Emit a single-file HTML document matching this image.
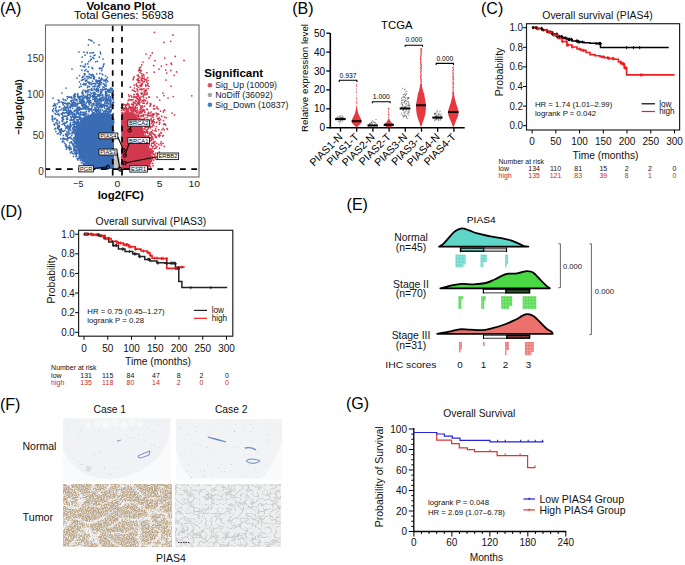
<!DOCTYPE html>
<html><head><meta charset="utf-8"><style>
html,body{margin:0;padding:0;background:#fff;}
svg{display:block;}
text{font-family:"Liberation Sans", sans-serif;}
</style></head><body>
<svg width="685" height="565" viewBox="0 0 685 565">
<rect width="685" height="565" fill="#fff"/>
<text x="0.00" y="13.70" font-size="16">(A)</text>
<text x="86.40" y="9.50" font-size="10.8" font-weight="bold" textLength="69.20" lengthAdjust="spacingAndGlyphs">Volcano Plot</text>
<text x="74.00" y="19.00" font-size="10.4" textLength="99.60" lengthAdjust="spacingAndGlyphs">Total Genes: 56938</text>
<polygon points="114.0,169.0 93.0,169.0 85.0,163.0 79.0,156.0 76.0,147.0 75.0,137.0 77.0,128.0 80.0,121.0 85.0,116.0 92.0,114.0 100.0,113.0 107.0,113.0 111.5,114.0 114.0,118.0" fill="#3a6cb4"/>
<path d="M77.2 146.3h0M93.5 94.0h0M87.5 97.4h0M100.8 129.6h0M59.7 102.1h0M92.8 138.2h0M88.0 114.0h0M103.8 161.8h0M106.0 118.4h0M79.8 101.4h0M103.0 59.1h0M110.9 107.2h0M112.6 151.1h0M102.4 134.9h0M83.1 84.6h0M94.3 163.3h0M107.6 148.1h0M91.8 142.8h0M98.0 100.6h0M112.2 89.9h0M110.6 132.9h0M112.7 124.1h0M85.1 55.2h0M112.1 123.1h0M87.3 156.5h0M108.7 103.7h0M85.5 140.7h0M98.6 157.5h0M89.2 104.2h0M94.3 97.3h0M106.1 161.4h0M89.9 105.1h0M99.9 73.4h0M86.5 129.8h0M69.5 137.5h0M96.9 110.2h0M80.4 160.4h0M102.4 94.6h0M103.4 89.5h0M94.0 166.7h0M103.3 130.6h0M103.8 152.0h0M62.9 104.1h0M106.3 89.0h0M93.7 128.8h0M90.2 120.0h0M97.9 103.9h0M112.4 102.7h0M89.5 122.2h0M69.5 112.4h0M94.3 126.5h0M83.1 98.9h0M112.6 160.6h0M106.8 130.1h0M107.5 101.7h0M70.2 148.1h0M98.0 147.9h0M85.2 132.3h0M91.2 75.5h0M69.3 111.0h0M108.0 103.1h0M108.0 168.5h0M98.0 92.1h0M79.3 110.2h0M91.3 77.8h0M106.6 100.3h0M93.2 93.0h0M92.7 159.2h0M97.3 104.1h0M92.6 162.3h0M102.6 145.7h0M102.0 138.4h0M98.4 158.1h0M81.6 159.6h0M99.5 117.6h0M106.5 167.4h0M95.4 96.6h0M76.7 119.3h0M97.9 149.0h0M91.8 167.8h0M87.3 159.9h0M105.4 96.8h0M99.8 161.9h0M88.2 119.2h0M85.2 121.7h0M70.0 112.2h0M77.1 145.5h0M106.5 98.4h0M73.7 104.1h0M110.4 165.8h0M77.2 124.3h0M99.9 98.0h0M82.4 79.8h0M93.5 155.3h0M75.2 142.5h0M113.4 113.6h0M98.9 95.9h0M87.5 124.9h0M89.4 94.6h0M91.8 40.9h0M105.8 140.5h0M85.3 161.3h0M91.1 144.6h0M79.8 135.2h0M100.5 106.5h0M91.1 164.4h0M90.4 128.8h0M94.6 150.3h0M96.4 112.7h0M63.6 119.6h0M94.3 121.0h0M108.5 161.7h0M104.3 144.4h0M102.8 120.7h0M95.8 86.2h0M77.9 139.3h0M95.1 108.5h0M98.8 166.1h0M100.4 120.3h0M98.3 136.6h0M70.9 106.4h0M100.9 134.1h0M62.6 121.6h0M75.5 141.6h0M82.0 120.8h0M97.4 156.9h0M86.7 136.1h0M93.5 122.0h0M70.0 120.3h0M79.1 119.4h0M93.2 159.9h0M91.9 139.9h0M110.2 106.0h0M76.9 129.5h0M110.2 107.0h0M101.3 89.3h0M77.4 121.5h0M90.5 40.0h0M110.9 123.9h0M99.7 83.4h0M107.9 141.7h0M84.0 135.2h0M106.5 110.7h0M81.4 103.3h0M93.7 160.0h0M112.8 104.9h0M108.2 118.1h0M90.1 129.2h0M79.3 137.9h0M108.5 123.9h0M102.6 141.0h0M86.8 158.3h0M110.0 166.5h0M65.5 134.1h0M104.8 133.6h0M90.2 130.9h0M91.6 145.1h0M69.9 133.6h0M105.1 101.7h0M73.5 113.3h0M110.5 140.8h0M95.0 146.4h0M102.0 151.6h0M93.8 157.7h0M98.1 141.7h0M106.6 106.4h0M72.1 106.0h0M81.1 112.3h0M85.7 152.1h0M110.6 157.2h0M88.3 90.1h0M91.0 163.3h0M75.2 96.7h0M111.8 167.9h0M91.4 167.1h0M90.2 97.3h0M95.7 110.5h0M101.6 82.7h0M64.0 112.8h0M88.9 102.9h0M101.9 114.4h0M80.5 152.2h0M102.3 151.4h0M81.7 105.2h0M66.0 145.0h0M83.5 130.0h0M105.6 131.9h0M99.7 82.3h0M111.3 160.4h0M77.0 120.9h0M67.0 126.9h0M84.7 159.1h0M111.2 105.3h0M79.9 107.9h0M85.1 118.3h0M105.8 95.6h0M104.4 145.6h0M79.3 132.7h0M75.0 110.8h0M82.0 96.2h0M106.3 164.3h0M102.9 105.1h0M113.4 154.3h0M90.3 117.0h0M113.6 121.4h0M76.3 141.2h0M83.4 145.8h0M81.0 141.9h0M60.0 130.5h0M67.3 147.4h0M110.9 104.1h0M82.8 109.1h0M70.5 124.8h0M93.5 124.9h0M76.4 124.3h0M93.8 83.7h0M103.4 139.7h0M97.3 146.7h0M95.0 143.6h0M84.8 70.7h0M90.2 160.5h0M104.1 159.4h0M73.6 146.9h0M110.5 102.8h0M104.7 141.1h0M86.1 83.6h0M112.4 164.0h0M73.8 114.1h0M83.9 112.0h0M64.5 113.0h0M82.8 115.1h0M86.0 139.5h0M52.8 117.1h0M85.1 143.2h0M109.2 126.5h0M87.2 52.9h0M102.4 127.0h0M107.2 115.2h0M111.2 168.0h0M99.6 120.9h0M105.9 161.0h0M82.6 121.2h0M85.2 91.2h0M78.5 112.5h0M88.6 151.2h0M106.0 82.7h0M91.0 158.9h0M75.9 126.9h0M96.3 81.1h0M84.5 115.1h0M92.1 116.8h0M98.9 139.7h0M99.4 166.0h0M91.9 139.4h0M81.9 121.3h0M101.2 98.3h0M81.1 154.7h0M93.7 116.3h0M87.1 153.7h0M81.8 158.3h0M96.8 73.8h0M91.8 109.3h0M95.9 90.3h0M97.8 149.8h0M90.3 135.4h0M89.2 126.7h0M90.2 109.1h0M80.3 132.5h0M109.3 107.3h0M83.8 144.5h0M103.3 145.1h0M62.9 112.7h0M89.5 86.7h0M87.0 159.2h0M112.2 131.3h0M92.6 81.2h0M79.6 148.0h0M80.3 154.6h0M92.9 135.0h0M99.2 138.9h0M95.5 101.2h0M94.2 92.7h0M105.0 110.8h0M81.3 114.5h0M78.5 153.0h0M77.8 121.7h0M93.2 76.6h0M100.2 162.6h0M93.9 58.3h0M70.4 111.4h0M77.5 126.9h0M113.8 161.1h0M81.8 159.8h0M81.0 151.2h0M88.3 164.7h0M110.4 124.0h0M71.3 96.9h0M88.1 98.4h0M74.0 124.9h0M103.9 152.4h0M84.3 104.4h0M82.1 154.7h0M86.5 128.3h0M100.2 131.1h0M79.6 158.6h0M110.2 92.0h0M100.7 100.8h0M104.1 141.0h0M95.9 83.7h0M101.3 115.3h0M93.9 131.1h0M100.2 142.0h0M110.3 146.2h0M76.8 117.2h0M104.1 119.1h0M57.7 127.5h0M79.1 144.0h0M105.2 105.3h0M109.4 155.1h0M93.3 156.8h0M103.4 127.5h0M96.6 136.2h0M97.8 122.0h0M101.5 126.6h0M111.6 131.0h0M102.9 142.0h0M60.4 134.7h0M108.7 107.3h0M98.2 126.8h0M91.3 164.7h0M94.3 139.5h0M110.2 135.3h0M75.1 143.6h0M92.7 113.7h0M100.5 147.8h0M93.0 136.8h0M89.2 74.0h0M88.6 146.0h0M73.0 129.6h0M103.7 80.6h0M63.9 141.9h0M103.7 143.9h0M82.3 93.5h0M90.3 132.9h0M101.5 163.9h0M95.3 97.6h0M80.5 145.7h0M87.5 87.6h0M103.1 141.0h0M93.1 131.5h0M91.6 128.7h0M93.0 159.9h0M112.3 131.0h0M85.6 145.6h0M101.9 98.0h0M104.4 149.1h0M83.3 97.7h0M103.6 131.9h0M93.6 149.3h0M78.3 130.6h0M70.1 120.1h0M84.4 164.5h0M84.0 123.1h0M94.1 164.7h0M87.8 124.0h0M94.5 77.8h0M112.1 128.1h0M78.5 133.4h0M104.7 143.2h0M87.6 124.6h0M74.5 123.4h0M73.3 132.7h0M91.8 105.4h0M80.1 135.0h0M73.5 156.3h0M75.7 127.0h0M113.5 119.4h0M86.0 131.2h0M87.2 154.1h0M111.9 152.0h0M91.8 105.2h0M83.5 126.7h0M97.4 119.8h0M93.0 142.7h0M111.5 155.9h0M103.5 122.1h0M95.1 164.6h0M106.0 115.1h0M61.1 129.2h0M109.8 165.1h0M71.5 106.4h0M76.7 100.7h0M71.9 102.4h0M109.5 111.4h0M100.6 68.3h0M92.5 112.0h0M62.3 114.3h0M89.3 156.1h0M69.9 124.8h0M82.4 106.3h0M95.6 138.9h0M90.8 74.5h0M112.8 157.2h0M79.8 119.1h0M68.4 138.6h0M84.0 147.1h0M104.7 80.1h0M97.7 82.7h0M74.4 148.0h0M97.6 126.7h0M100.1 152.0h0M83.2 101.4h0M106.3 125.2h0M95.9 94.2h0M113.5 94.8h0M95.4 159.8h0M98.6 151.8h0M82.8 99.3h0M101.0 126.8h0M71.5 138.4h0M89.6 77.7h0M70.2 104.1h0M62.7 115.5h0M111.9 90.8h0M108.9 90.6h0M97.0 162.4h0M87.8 126.7h0M110.5 110.0h0M80.7 102.9h0M109.5 121.7h0M85.3 158.8h0M109.2 94.9h0M97.9 150.5h0M88.2 166.0h0M95.3 120.5h0M93.0 165.0h0M112.7 94.9h0M113.7 130.5h0M100.6 113.4h0M106.4 116.7h0M108.5 111.5h0M76.5 125.7h0M111.2 159.7h0M102.6 167.8h0M70.4 137.2h0M108.1 114.8h0M63.7 123.7h0M101.7 137.4h0M59.3 127.0h0M65.9 144.8h0M112.1 139.0h0M84.1 150.0h0M93.6 135.6h0M85.5 91.1h0M98.8 115.2h0M111.9 88.4h0M86.0 162.2h0M84.8 151.0h0M73.1 117.2h0M63.2 104.5h0M103.6 125.6h0M109.3 168.0h0M113.6 119.7h0M87.7 142.9h0M76.4 109.2h0M88.7 61.7h0M91.5 93.5h0M82.8 160.7h0M108.2 130.5h0M104.2 122.9h0M95.9 104.9h0M102.1 100.0h0M87.3 132.7h0M105.3 121.4h0M105.8 131.9h0M74.4 126.0h0M100.3 151.3h0M82.7 115.0h0M76.8 125.0h0M95.0 140.3h0M95.4 145.2h0M98.3 134.1h0M93.3 121.2h0M100.9 134.6h0M105.5 95.5h0M107.0 94.0h0M99.5 87.1h0M107.8 95.6h0M88.1 71.4h0M73.8 137.7h0M93.5 119.8h0M86.8 80.2h0M87.6 87.4h0M101.0 144.2h0M77.7 104.5h0M73.8 150.8h0M89.3 111.8h0M92.4 125.1h0M79.3 147.0h0M111.5 127.4h0M81.8 99.9h0M66.6 122.4h0M70.1 110.1h0M80.9 118.8h0M89.5 140.2h0M86.3 136.7h0M103.1 128.2h0M105.7 167.7h0M101.9 133.9h0M89.2 150.9h0M106.1 84.8h0M76.0 106.7h0M108.8 99.8h0M72.6 144.4h0M74.1 113.8h0M88.5 120.0h0M105.5 88.8h0M61.7 113.6h0M80.4 108.4h0M82.2 147.6h0M99.1 112.7h0M99.9 168.4h0M109.6 89.4h0M103.2 100.4h0M92.3 111.3h0M106.4 166.2h0M95.6 133.4h0M91.1 124.0h0M88.2 82.1h0M57.4 133.8h0M82.1 92.4h0M74.5 95.0h0M78.7 152.5h0M78.2 137.9h0M110.1 155.6h0M85.9 92.5h0M78.4 157.9h0M87.5 131.1h0M58.1 100.0h0M67.8 103.1h0M82.2 132.3h0M76.4 154.9h0M91.5 144.1h0M66.6 118.7h0M79.6 131.5h0M91.6 128.0h0M97.4 123.2h0M86.5 105.5h0M103.9 148.6h0M59.9 131.9h0M95.4 114.2h0M95.5 144.1h0M85.2 144.5h0M99.9 120.3h0M109.0 144.4h0M109.6 122.6h0M110.0 139.9h0M79.6 137.5h0M78.5 141.9h0M77.1 147.6h0M111.8 147.6h0M66.7 119.3h0M101.2 116.4h0M102.9 155.3h0M98.7 118.8h0M84.8 159.6h0M96.5 164.9h0M80.6 121.1h0M95.1 162.1h0M70.5 152.8h0M72.1 143.2h0M101.9 68.0h0M105.5 146.2h0M99.1 139.3h0M103.3 167.0h0M103.4 158.6h0M99.0 78.1h0M72.3 153.3h0M92.5 152.4h0M68.1 134.8h0M90.9 101.0h0M109.0 161.1h0M86.3 151.0h0M113.4 101.0h0M103.7 154.9h0M109.1 124.5h0M74.0 146.6h0M98.2 99.4h0M107.0 161.8h0M83.2 114.4h0M112.9 92.2h0M87.8 109.1h0M84.4 107.8h0M91.9 67.4h0M84.1 121.7h0M100.1 132.2h0M64.9 130.3h0M74.8 138.9h0M98.4 102.1h0M98.9 121.4h0M96.9 125.6h0M100.6 111.6h0M59.5 107.2h0M98.0 116.7h0M76.3 136.3h0M80.2 144.4h0M96.6 117.4h0M102.1 74.1h0M92.5 114.4h0M81.6 102.4h0M82.8 143.1h0M106.1 93.0h0M86.5 154.6h0M69.3 133.5h0M101.5 166.1h0M91.5 123.9h0M81.6 137.1h0M77.7 111.5h0M96.2 89.8h0M87.9 86.1h0M101.0 99.5h0M113.1 131.7h0M71.9 113.1h0M78.1 144.6h0M90.8 82.9h0M58.0 111.4h0M67.6 140.5h0M98.6 90.9h0M77.2 158.7h0M79.5 107.0h0M91.9 52.9h0M102.6 114.7h0M66.4 149.0h0M101.6 166.2h0M89.2 83.8h0M77.9 159.9h0M82.9 100.4h0M96.5 155.1h0M104.5 128.3h0M93.9 142.0h0M84.3 141.2h0M94.4 86.7h0M72.6 128.8h0M105.1 137.6h0M101.3 78.0h0M101.8 107.3h0M107.6 135.9h0M100.1 127.1h0M83.9 163.8h0M107.4 131.5h0M95.7 145.9h0M113.6 123.0h0M85.8 96.2h0M103.4 163.6h0M95.7 99.7h0M97.2 167.0h0M87.7 146.2h0M66.9 111.4h0M94.6 83.6h0M109.3 107.8h0M92.9 148.4h0M85.8 149.2h0M87.8 94.2h0M55.9 131.4h0M98.3 116.5h0M87.6 166.5h0M54.8 129.0h0M70.7 142.3h0M92.9 86.5h0M89.2 137.3h0M80.2 127.8h0M90.3 134.7h0M94.2 168.9h0M80.5 135.6h0M109.5 125.7h0M106.5 103.6h0M97.1 129.7h0M108.9 107.7h0M100.7 53.8h0M83.3 138.5h0M97.2 113.1h0M95.9 133.8h0M80.8 157.2h0M64.2 124.2h0M97.2 102.6h0M93.1 120.3h0M102.4 147.1h0M87.9 107.4h0M87.7 107.4h0M110.6 89.8h0M110.2 96.6h0M85.8 165.1h0M81.6 142.3h0M84.2 114.3h0M95.6 141.9h0M80.2 154.8h0M86.7 151.1h0M80.7 99.4h0M111.0 115.9h0M79.5 99.6h0M96.0 108.4h0M111.9 154.4h0M72.7 131.9h0M83.0 108.7h0M87.1 96.4h0M103.1 128.6h0M99.3 105.8h0M64.2 123.6h0M80.3 131.4h0M93.6 114.7h0M85.5 158.3h0M110.0 101.9h0M94.8 116.2h0M103.5 116.8h0M85.7 163.0h0M109.9 102.5h0M84.5 156.2h0M81.0 124.2h0M99.4 78.0h0M80.9 125.1h0M61.7 129.1h0M82.7 131.0h0M74.6 110.3h0M108.1 123.6h0M98.5 148.0h0M106.0 127.8h0M84.9 153.3h0M72.9 127.9h0M107.7 165.1h0M98.8 85.7h0M107.3 80.8h0M99.8 122.8h0M62.5 121.2h0M85.9 134.8h0M90.3 125.6h0M90.3 95.6h0M82.4 142.6h0M98.3 95.0h0M75.8 106.2h0M70.3 107.9h0M96.0 123.5h0M93.7 113.8h0M101.9 126.5h0M88.9 124.0h0M73.9 121.7h0M99.5 151.2h0M73.8 105.2h0M105.9 118.7h0M77.9 93.7h0M85.1 74.0h0M68.8 113.6h0M85.5 80.7h0M110.2 89.2h0M76.9 104.2h0M106.5 113.9h0M85.4 64.2h0M92.2 106.4h0M95.6 162.5h0M102.8 138.0h0M98.2 126.8h0M82.5 108.7h0M76.4 128.4h0M84.8 84.3h0M96.5 96.8h0M105.5 89.3h0M73.2 124.7h0M84.9 163.6h0M104.5 105.8h0M67.4 105.0h0M64.9 116.3h0M83.3 122.9h0M89.4 157.1h0M67.8 119.1h0M107.3 112.0h0M76.0 132.5h0M80.5 136.1h0M105.1 153.5h0M86.7 134.3h0M104.1 129.4h0M63.2 99.2h0M66.3 146.0h0M93.6 52.5h0M97.4 111.8h0M65.4 100.2h0M113.5 118.8h0M91.7 153.6h0M82.4 149.3h0M67.2 117.6h0M79.2 108.5h0M66.0 103.8h0M101.2 153.2h0M101.5 148.5h0M69.2 145.4h0M108.6 136.8h0M56.0 122.7h0M92.6 126.1h0M90.4 128.5h0M83.0 115.4h0M98.3 107.8h0M83.0 66.0h0M87.1 98.3h0M94.1 153.4h0M100.2 127.1h0M101.4 79.9h0M101.6 92.4h0M108.7 138.4h0M65.8 127.8h0M91.8 109.8h0M59.3 115.5h0M52.5 110.2h0M84.8 142.6h0M82.4 138.1h0M98.9 132.1h0M91.7 159.3h0M83.0 138.7h0M79.2 148.8h0M89.0 123.6h0M86.5 136.6h0M96.5 125.3h0M81.2 138.6h0M95.3 160.7h0M111.5 139.9h0M95.2 117.1h0M77.9 107.0h0M113.2 90.3h0M74.4 131.2h0M110.8 162.3h0M103.8 161.3h0M91.5 139.7h0M111.5 126.1h0M76.8 99.3h0M95.5 96.7h0M98.8 158.8h0M94.5 109.9h0M87.3 101.8h0M109.6 91.2h0M112.4 143.6h0M109.3 136.8h0M111.5 166.1h0M101.4 82.3h0M88.9 135.7h0M69.1 131.2h0M83.7 76.6h0M90.4 132.0h0M75.4 150.4h0M91.0 161.3h0M111.8 136.9h0M83.5 140.5h0M75.1 123.5h0M87.6 98.1h0M86.1 128.1h0M98.0 119.6h0M64.7 123.2h0M102.8 96.4h0M94.3 120.2h0M68.8 113.7h0M110.6 166.7h0M54.3 119.0h0M97.2 142.1h0M102.0 164.9h0M83.7 84.5h0M93.1 126.1h0M81.6 100.3h0M97.1 134.4h0M77.7 117.2h0M84.9 159.6h0M106.1 132.5h0M82.0 105.4h0M69.2 126.8h0M103.2 154.6h0M74.4 103.4h0M78.6 121.9h0M66.8 134.9h0M97.5 136.2h0M87.1 127.8h0M107.3 116.1h0M73.9 121.8h0M92.9 57.7h0M87.1 132.8h0M109.2 128.5h0M98.2 121.5h0M82.7 123.9h0M75.5 147.6h0M87.0 139.3h0M105.9 141.7h0M96.1 102.6h0M80.1 141.7h0M112.9 152.3h0M84.3 114.9h0M89.9 157.8h0M106.1 80.4h0M107.4 149.2h0M82.8 149.2h0M110.4 159.9h0M94.2 133.4h0M98.0 109.5h0M64.1 123.2h0M109.3 117.6h0M110.1 129.2h0M73.8 130.2h0M90.4 122.3h0M82.9 94.3h0M68.7 97.2h0M97.2 140.5h0M98.3 131.6h0M106.6 140.4h0M76.6 155.8h0M84.9 127.5h0M92.9 115.7h0M88.4 45.1h0M97.9 104.1h0M72.3 112.7h0M74.8 111.3h0M106.5 79.8h0M98.3 89.0h0M94.4 77.0h0M108.4 92.2h0M81.3 96.2h0M106.4 143.7h0M74.4 99.0h0M81.4 156.3h0M86.7 119.8h0M99.7 100.9h0M72.9 145.0h0M75.0 121.7h0M91.5 127.8h0M76.7 150.1h0M94.3 168.8h0M73.5 127.1h0M94.4 146.0h0M91.0 122.9h0M98.8 107.1h0M113.5 139.2h0M103.8 129.2h0M111.1 156.7h0M77.8 103.6h0M106.9 146.8h0M79.8 143.3h0M103.5 99.4h0M80.3 113.1h0M102.1 142.3h0M87.5 149.5h0M103.4 123.6h0M75.9 138.4h0M82.3 127.5h0M97.9 152.3h0M93.9 55.6h0M91.9 146.4h0M92.6 120.9h0M79.1 158.4h0M107.4 167.1h0M74.8 141.0h0M78.2 135.0h0M111.5 167.4h0M75.2 136.4h0M78.4 153.0h0M84.5 122.9h0M85.6 133.2h0M94.6 89.1h0M99.2 106.7h0M113.4 136.1h0M86.4 111.2h0M86.2 159.7h0M97.4 61.3h0M98.8 133.3h0M109.0 125.6h0M96.9 118.5h0M94.3 137.6h0M76.1 131.0h0M80.6 65.9h0M91.6 109.5h0M78.0 97.4h0M95.0 146.9h0M103.3 158.6h0M77.1 147.2h0M105.8 93.0h0M86.5 76.7h0M95.4 111.3h0M72.5 114.7h0M79.8 114.0h0M88.7 109.0h0M87.8 146.4h0M83.2 161.8h0M99.5 68.6h0M94.9 128.8h0M85.2 123.9h0M77.7 96.7h0M107.4 143.2h0M93.4 75.5h0M106.1 86.3h0M89.6 108.7h0M109.6 165.3h0M111.0 165.4h0M93.5 126.4h0M95.8 84.1h0M56.4 110.5h0M102.1 106.5h0M76.6 113.1h0M77.5 142.1h0M97.8 86.5h0M100.1 165.7h0M87.6 90.3h0M89.0 134.4h0M87.5 125.2h0M81.5 124.9h0M112.4 144.7h0M77.3 94.6h0M80.8 113.2h0M92.2 131.0h0M91.4 138.2h0M107.0 130.4h0M105.9 125.1h0M69.9 114.2h0M110.7 88.2h0M94.0 95.8h0M72.9 124.4h0M109.7 140.0h0M83.8 83.3h0M97.5 139.2h0M99.2 146.4h0M101.7 164.6h0M93.9 104.1h0M97.8 88.3h0M98.6 124.5h0M111.9 105.5h0M108.0 119.8h0M63.7 99.7h0M101.3 116.2h0M94.2 78.9h0M96.1 98.1h0M92.6 140.5h0M89.8 143.7h0M112.5 157.8h0M84.5 126.1h0M73.4 132.5h0M78.0 111.7h0M83.6 130.0h0M81.9 125.7h0M86.4 129.1h0M100.7 151.1h0M86.1 98.2h0M108.2 156.3h0M74.7 98.8h0M85.9 144.3h0M99.3 107.2h0M90.6 56.4h0M87.0 124.0h0M57.0 119.8h0M112.3 97.6h0M70.7 116.3h0M96.0 103.0h0M87.5 117.1h0M97.0 127.1h0M76.2 104.7h0M89.7 134.0h0M86.1 152.3h0M108.5 145.3h0M101.3 114.0h0M94.0 92.3h0M104.5 132.0h0M77.3 127.4h0M113.0 168.0h0M107.6 105.2h0M88.4 153.7h0M79.6 144.5h0M111.8 126.3h0M67.6 119.1h0M105.5 94.4h0M103.8 115.3h0M78.8 114.3h0M102.4 127.8h0M96.9 80.6h0M89.6 138.3h0M99.5 81.4h0M90.5 118.9h0M97.8 121.1h0M103.8 137.0h0M113.3 150.5h0M96.5 112.3h0M78.3 149.1h0M106.9 153.8h0M103.7 121.1h0M67.6 137.0h0M71.1 125.7h0M92.5 83.7h0M101.2 134.4h0M109.0 107.6h0M101.8 138.1h0M111.1 122.0h0M112.8 129.5h0M107.0 116.2h0M71.5 120.1h0M96.3 146.5h0M65.0 103.1h0M72.5 116.7h0M91.7 145.7h0M103.6 116.0h0M86.0 146.5h0M107.2 147.3h0M87.7 63.9h0M94.8 107.5h0M76.8 144.2h0M84.4 144.2h0M78.8 148.1h0M85.5 142.5h0M105.6 168.7h0M77.1 146.2h0M90.0 77.7h0M103.3 140.7h0M90.4 60.3h0M75.6 129.7h0M105.5 159.8h0M65.7 138.8h0M90.6 128.1h0M84.1 98.0h0M75.4 122.3h0M77.9 141.8h0M103.4 154.4h0M86.9 148.4h0M74.4 97.0h0M94.2 88.7h0M95.5 159.6h0M94.3 86.2h0M113.7 161.1h0M82.8 160.4h0M94.3 95.6h0M73.5 126.6h0M87.8 139.6h0M95.7 109.9h0M96.0 158.0h0M90.3 116.8h0M69.1 137.8h0M91.8 163.3h0M108.5 99.3h0M93.9 152.4h0M66.0 126.2h0M112.8 137.2h0M112.2 160.0h0M78.3 147.2h0M84.7 149.0h0M91.6 125.6h0M105.0 164.7h0M101.1 127.9h0M84.2 102.5h0M82.0 100.1h0M84.0 131.0h0M94.2 147.7h0M81.2 159.2h0M67.4 98.7h0M87.7 130.6h0M112.3 149.0h0M70.2 127.6h0M86.7 119.0h0M83.5 128.0h0M74.3 142.4h0M71.8 135.6h0M76.2 135.1h0M54.1 105.3h0M79.2 149.7h0M82.6 156.4h0M79.8 96.7h0M110.2 101.2h0M88.7 111.0h0M72.0 132.0h0M94.9 99.1h0M95.0 92.9h0M109.4 120.7h0M86.0 138.4h0M99.7 125.7h0M107.0 116.9h0M70.2 126.1h0M102.5 127.0h0M103.8 167.7h0M99.1 103.2h0M59.7 106.5h0M108.8 164.4h0M113.7 121.8h0M85.8 121.6h0M98.4 168.4h0M74.4 150.0h0M69.1 107.0h0M112.9 123.8h0M80.6 96.5h0M70.7 101.2h0M106.6 157.9h0M87.6 101.7h0M109.8 154.7h0M83.3 136.2h0M90.8 124.9h0M90.3 159.4h0M79.0 128.7h0M95.7 160.3h0M63.3 135.4h0M106.2 78.9h0M75.2 136.6h0M104.0 165.8h0M82.8 136.2h0M108.6 140.0h0M105.7 156.6h0M99.5 133.2h0M86.6 167.3h0M99.2 110.1h0M81.9 103.4h0M54.1 124.0h0M84.7 153.6h0M94.1 76.5h0M88.2 159.2h0M97.9 132.6h0M103.1 131.6h0M98.9 138.5h0M70.7 114.0h0M85.1 107.6h0M91.4 149.5h0M92.5 123.9h0M91.3 120.8h0M113.7 135.1h0M111.9 95.1h0M109.0 119.2h0M102.4 126.2h0M85.8 125.3h0M87.3 71.3h0M102.3 145.8h0M100.9 140.9h0M85.5 112.7h0M104.6 106.6h0M96.0 136.7h0M61.9 117.9h0M54.7 124.2h0M96.8 156.9h0M56.7 120.8h0M92.3 168.9h0M108.8 140.1h0M74.5 116.1h0M110.5 138.6h0M88.3 154.6h0M67.1 133.0h0M87.0 98.9h0M79.9 135.5h0M85.0 155.1h0M90.1 127.4h0M112.5 99.0h0M102.6 149.4h0M81.1 151.6h0M106.9 101.7h0M112.1 88.6h0M105.8 100.3h0M93.5 168.1h0M92.6 103.9h0M85.4 116.2h0M112.9 97.5h0M88.2 149.3h0M107.5 130.4h0M89.4 77.3h0M104.0 165.1h0M103.5 125.9h0M96.7 116.7h0M107.5 77.4h0M99.8 147.0h0M79.0 130.6h0M90.2 137.3h0M76.5 114.0h0M102.4 125.3h0M92.3 127.2h0M88.8 167.0h0M101.9 139.2h0M99.1 121.6h0M104.1 99.9h0M82.6 149.5h0M96.5 109.1h0M107.0 142.2h0M95.7 61.8h0M105.6 112.1h0M94.7 132.4h0M77.5 105.0h0M101.8 133.8h0M93.7 125.8h0M80.7 126.2h0M76.5 135.3h0M103.2 136.9h0M83.0 90.0h0M94.6 122.9h0M107.6 121.1h0M69.3 114.1h0M100.8 106.6h0M112.2 115.4h0M113.3 156.3h0M88.2 163.9h0M70.4 123.4h0M105.1 155.4h0M71.7 100.3h0M81.8 154.7h0M110.1 116.7h0M111.9 142.3h0M99.7 112.0h0M52.3 115.9h0M83.2 139.4h0M78.0 108.9h0M62.9 118.0h0M110.8 92.4h0M73.9 149.7h0M61.3 128.8h0M110.5 155.0h0M84.5 102.2h0M101.9 146.1h0M109.0 166.4h0M99.4 68.1h0M91.0 161.7h0M85.4 125.5h0M65.4 107.8h0M84.8 74.9h0M84.9 125.3h0M71.2 148.9h0M100.6 93.6h0M113.3 160.7h0M101.7 125.8h0M58.3 114.1h0M98.3 115.9h0M99.7 164.8h0M112.1 96.9h0M83.4 163.9h0M77.8 158.6h0M109.9 145.9h0M70.4 106.6h0M105.1 80.9h0M83.5 113.2h0M80.8 125.9h0M105.8 145.7h0M89.2 104.2h0M94.7 130.7h0M86.8 127.9h0M102.0 105.4h0M100.8 84.4h0M99.7 162.4h0M91.0 168.1h0M74.9 152.3h0M101.8 128.0h0M102.5 113.0h0M96.8 151.9h0M102.5 142.0h0M66.8 103.6h0M108.1 90.6h0M79.2 156.8h0M112.7 136.2h0M74.3 128.0h0M101.1 107.1h0M80.8 108.8h0M113.4 132.7h0M108.8 128.7h0M62.1 124.3h0M111.9 116.3h0M89.6 123.8h0M109.5 152.2h0M68.9 115.0h0M89.0 164.3h0M98.7 104.8h0M93.7 137.9h0M99.7 98.4h0M104.3 132.3h0M69.1 103.1h0M53.6 108.7h0M59.3 125.7h0M102.0 100.6h0M108.2 153.3h0M101.5 135.4h0M91.5 128.4h0M70.9 97.6h0M88.3 131.7h0M96.6 138.2h0M59.7 129.4h0M111.9 119.3h0M94.6 154.2h0M94.6 153.9h0M88.3 71.8h0M83.8 132.0h0M75.7 142.4h0M105.3 140.9h0M99.8 121.6h0M93.7 144.3h0M84.7 96.8h0M111.8 126.2h0M72.7 105.3h0M67.8 128.3h0M89.0 164.0h0M105.3 137.6h0M98.9 146.0h0M52.3 119.4h0M83.1 149.3h0M97.7 167.5h0M93.9 150.1h0M80.2 146.8h0M88.5 135.7h0M113.3 130.9h0M104.0 161.0h0M101.0 120.5h0M107.9 125.9h0M110.0 97.7h0M106.1 165.4h0M62.8 113.1h0M98.6 147.1h0M100.5 160.3h0M81.4 120.1h0M73.7 95.7h0M96.8 160.7h0M99.3 149.6h0M78.0 113.0h0M96.4 111.4h0M82.7 125.4h0M69.0 111.6h0M86.0 81.3h0M95.0 122.6h0M80.7 84.0h0M103.7 141.6h0M76.7 110.9h0M99.8 103.3h0M84.8 128.4h0M106.7 91.6h0M83.2 137.5h0M61.8 102.0h0M101.7 164.5h0M102.5 95.2h0M98.6 151.8h0M101.5 97.5h0M89.9 89.7h0M70.7 130.3h0M80.8 138.9h0M88.9 156.9h0M102.7 135.3h0M102.3 167.3h0M100.5 128.8h0M85.0 163.0h0M81.2 132.2h0M100.8 93.4h0M83.4 149.1h0M95.4 158.8h0M83.9 100.5h0M78.9 98.2h0M76.6 124.7h0M67.9 135.1h0M111.2 110.9h0M93.4 162.1h0M98.9 107.6h0M68.7 114.9h0M96.2 163.2h0M79.7 114.7h0M94.2 135.8h0M57.8 128.3h0M99.9 126.1h0M100.7 166.3h0M96.1 129.1h0M86.2 119.4h0M100.5 137.5h0M83.1 101.2h0M108.7 121.2h0M75.5 149.8h0M100.8 103.4h0M99.0 80.6h0M93.2 92.6h0M103.7 155.4h0M105.9 124.1h0M90.1 139.7h0M56.1 106.9h0M90.3 141.8h0M77.7 119.8h0M112.7 148.3h0M103.3 97.7h0M98.0 155.8h0M74.0 119.5h0M99.5 140.9h0M77.6 153.3h0M82.7 112.4h0M86.2 111.4h0M68.0 104.8h0M87.2 100.1h0M110.5 98.3h0M99.6 158.9h0M100.8 129.1h0M81.6 99.4h0M104.0 161.8h0M91.2 153.0h0M113.4 130.4h0M75.9 115.7h0M99.4 113.2h0M84.4 121.6h0M57.7 126.7h0M82.2 148.7h0M102.6 124.9h0M74.8 138.5h0M71.7 151.3h0M80.8 111.9h0M109.4 89.9h0M83.5 79.3h0M108.5 166.3h0M73.8 144.7h0M96.2 128.7h0M89.4 98.8h0M71.5 111.0h0M61.0 130.3h0M97.7 94.9h0M104.5 161.8h0M66.9 131.5h0M92.5 122.9h0M67.8 137.6h0M98.7 157.4h0M110.1 104.8h0M105.6 147.7h0M110.2 163.9h0M77.0 103.3h0M80.9 139.2h0M97.8 146.4h0M69.5 149.8h0M113.1 108.4h0M84.2 125.6h0M104.1 144.8h0M78.2 133.4h0M100.3 52.2h0M102.0 139.7h0M109.4 120.8h0M103.5 105.7h0M106.1 166.9h0M105.9 131.2h0M78.4 107.3h0M76.2 113.1h0M111.7 131.2h0M97.0 103.7h0M85.2 125.4h0M100.9 141.2h0M92.6 141.8h0M108.1 131.5h0M59.7 130.5h0M113.6 148.8h0M57.3 123.3h0M66.5 107.3h0M78.6 145.8h0M108.8 141.6h0M85.8 137.8h0M105.5 167.3h0M100.7 129.0h0M93.8 139.2h0M72.8 102.6h0M94.8 119.2h0M89.7 129.1h0M79.4 141.2h0M84.7 138.0h0M80.3 141.0h0M97.9 81.5h0M89.1 82.7h0M109.7 137.9h0M105.9 145.6h0M98.0 126.9h0M79.6 101.0h0M95.1 151.3h0M106.2 124.1h0M110.0 154.7h0M79.3 150.4h0M98.7 115.0h0M70.3 103.9h0M66.6 121.6h0M108.8 107.2h0M94.9 164.5h0M85.6 152.5h0M102.8 94.9h0M102.9 141.9h0M62.4 102.8h0M105.8 150.8h0M101.7 133.6h0M81.5 128.0h0M105.7 110.5h0M93.3 161.5h0M79.1 123.5h0M97.2 147.8h0M87.0 146.5h0M54.2 105.7h0M99.6 126.8h0M113.4 155.4h0M72.6 115.1h0M81.6 162.7h0M96.9 90.0h0M75.6 138.7h0M112.7 114.2h0M88.5 66.9h0M81.7 127.1h0M111.7 88.6h0M92.0 159.3h0M71.5 104.8h0M106.3 122.5h0M70.6 126.9h0M103.6 148.8h0M81.3 130.3h0M75.9 143.5h0M64.4 106.1h0M106.5 109.5h0M81.9 70.2h0M76.2 152.5h0M97.0 106.9h0M110.7 101.4h0M84.8 105.3h0M73.0 122.3h0M96.5 142.1h0M108.8 91.5h0M99.4 94.3h0M81.8 118.0h0M66.3 135.7h0M75.9 138.3h0M76.7 112.5h0M102.4 110.2h0M73.5 131.1h0M94.7 98.1h0M72.7 108.3h0M65.4 123.2h0M109.6 155.1h0M103.8 163.8h0M106.8 156.7h0M98.6 140.0h0M67.2 106.4h0M67.9 125.3h0M107.2 152.2h0M75.1 138.4h0M102.1 137.0h0M105.6 128.6h0M83.8 118.3h0M97.3 138.8h0M73.6 153.5h0M100.3 133.1h0M90.3 122.5h0M93.6 97.2h0M68.4 132.9h0M106.2 97.4h0M100.7 102.8h0M105.8 141.8h0M85.4 96.5h0M102.7 89.0h0M99.5 164.6h0M86.1 113.4h0M112.7 99.2h0M97.3 125.8h0M90.0 97.2h0M81.0 109.2h0M90.6 152.8h0M68.2 109.0h0M55.8 128.3h0M99.7 85.2h0M105.7 135.8h0M76.0 142.1h0M105.5 115.1h0M89.3 124.7h0M74.1 127.7h0M83.0 93.3h0M85.6 134.7h0M80.8 156.5h0M105.7 165.7h0M78.9 103.1h0M102.9 134.3h0M102.7 131.6h0M94.0 105.6h0M52.9 121.1h0M92.3 137.7h0M110.2 114.8h0M84.0 100.9h0M93.5 147.6h0M104.1 113.3h0M103.2 138.7h0M94.9 158.0h0M90.7 123.7h0M100.4 160.8h0M111.2 130.5h0M63.6 131.3h0M101.5 144.6h0M89.5 165.1h0M101.7 101.2h0M98.8 158.3h0M104.9 114.7h0M90.1 160.1h0M62.0 108.5h0M103.9 121.3h0M110.6 122.8h0M87.3 159.0h0M76.1 110.0h0M105.5 137.2h0M83.6 126.7h0M107.1 129.6h0M110.6 164.5h0M106.5 120.1h0M63.8 108.1h0M111.1 156.3h0M78.2 123.5h0M82.5 103.5h0M89.1 148.4h0M89.5 108.5h0M94.6 125.0h0M87.9 131.3h0M72.7 119.9h0M110.8 103.9h0M87.1 52.3h0M64.7 116.0h0M93.0 167.4h0M74.7 133.7h0M81.9 61.8h0M84.1 147.9h0M74.9 93.7h0M87.6 143.4h0M94.9 133.8h0M62.3 141.8h0M107.1 151.1h0M89.5 138.9h0M89.8 144.1h0M93.9 161.2h0M79.6 97.9h0M86.5 107.4h0M100.5 166.1h0M89.3 82.3h0M93.4 75.3h0M81.3 146.9h0M103.4 125.1h0M107.3 155.6h0M84.1 114.9h0M96.8 116.4h0M67.2 113.3h0M97.0 100.8h0M99.6 161.4h0M108.9 108.8h0M92.5 74.3h0M75.2 149.5h0M89.6 127.1h0M112.1 160.8h0M58.6 102.3h0M102.2 163.2h0M89.1 103.6h0M70.2 126.3h0M74.0 111.4h0M92.8 161.2h0M108.5 140.4h0M94.8 94.6h0M68.1 110.4h0M86.0 103.4h0M97.3 131.0h0M60.9 138.9h0M82.0 144.7h0M80.2 118.0h0M93.7 142.2h0M88.6 91.5h0M104.1 132.4h0M86.7 102.2h0M82.0 118.9h0M87.2 131.4h0M105.9 150.2h0M109.4 135.7h0M91.4 137.7h0M93.9 128.2h0M98.1 120.6h0M91.5 110.0h0M93.2 155.0h0M89.6 145.5h0M95.6 149.7h0M107.3 130.9h0M87.0 119.9h0M80.5 157.0h0M79.4 128.6h0M102.6 136.9h0M113.4 165.9h0M75.1 94.7h0M107.9 138.0h0M93.2 156.4h0M106.0 88.7h0M71.2 149.0h0M107.2 159.6h0M58.6 133.4h0M91.1 167.2h0M75.4 152.2h0M93.8 144.6h0M61.2 132.7h0M103.2 143.8h0M111.9 158.6h0M83.1 141.5h0M81.6 80.4h0M59.4 123.0h0M81.5 162.8h0M84.3 113.8h0M93.1 166.2h0M92.7 142.0h0M101.6 166.5h0M94.8 139.4h0M112.0 107.6h0M101.5 70.5h0M87.9 109.3h0M107.7 118.3h0M69.1 131.2h0M105.8 113.8h0M104.9 85.5h0M76.1 129.5h0M78.3 138.3h0M86.8 146.6h0M101.5 157.2h0M93.1 146.6h0M104.6 89.3h0M72.1 98.1h0M79.2 134.4h0M109.7 101.2h0M110.2 123.2h0M104.0 63.9h0M67.8 107.8h0M113.3 91.3h0M93.7 166.1h0M80.6 142.9h0M111.2 133.8h0M86.3 123.3h0M107.0 101.9h0M96.2 106.0h0M80.0 129.0h0M75.3 134.8h0M105.5 75.9h0M93.4 133.4h0M99.4 148.1h0M87.9 116.4h0M106.6 118.0h0M84.6 125.5h0M73.9 96.0h0M76.5 141.5h0M93.7 140.5h0M103.1 166.9h0M100.5 114.3h0M58.7 129.4h0M108.5 96.9h0M105.0 150.4h0M83.9 95.6h0M110.1 89.6h0M110.5 125.2h0M96.1 80.2h0M95.9 136.6h0M63.9 109.2h0M95.4 165.8h0M61.3 113.9h0M57.2 103.9h0M93.6 104.2h0M101.2 159.8h0M87.5 94.4h0M113.8 166.0h0M93.8 139.7h0M101.8 158.8h0M95.6 115.0h0M102.6 168.0h0M76.5 143.0h0M110.8 121.5h0M95.2 141.3h0M84.3 142.9h0M107.1 150.4h0M81.4 121.5h0M96.7 88.4h0M96.3 162.2h0M65.2 107.3h0M109.2 158.6h0M60.9 109.9h0M109.2 148.4h0M59.3 122.1h0M109.1 114.1h0M100.4 126.4h0M92.3 135.1h0M81.9 132.5h0M73.8 101.2h0M95.1 125.6h0M109.2 109.8h0M52.5 119.2h0M91.6 88.7h0M106.2 97.5h0M90.8 157.1h0M90.4 100.5h0M90.1 110.1h0M94.8 100.9h0M112.0 127.2h0M107.8 81.6h0M108.1 109.4h0M109.3 163.0h0M101.3 91.8h0M88.1 101.6h0M107.5 169.0h0M93.8 114.9h0M67.9 137.9h0M71.5 141.9h0M95.0 140.5h0M107.4 90.0h0M96.1 115.8h0M86.0 122.3h0M73.4 140.5h0M100.4 104.8h0M105.4 99.1h0M86.0 118.0h0M86.5 162.6h0M81.5 136.7h0M59.0 100.3h0M96.8 158.3h0M84.8 108.8h0M55.4 110.6h0M82.9 102.6h0M96.6 111.3h0M86.2 130.0h0M101.3 164.2h0M96.8 138.4h0M111.5 154.4h0M92.9 168.1h0M108.7 140.4h0M81.3 134.3h0M107.9 146.9h0M93.7 95.4h0M52.4 118.6h0M55.4 114.1h0M82.0 149.4h0M97.5 104.9h0M110.7 88.3h0M111.3 124.7h0M92.1 165.2h0M57.1 114.4h0M113.5 140.9h0M104.5 163.4h0M104.7 103.6h0M90.0 97.4h0M101.7 151.2h0M71.0 117.6h0M91.5 124.4h0M104.3 143.4h0M105.8 166.1h0M66.1 139.6h0M110.5 107.0h0M99.0 120.4h0M102.9 131.6h0M86.1 128.4h0M70.4 137.9h0M102.6 128.8h0M97.1 144.3h0M100.2 80.1h0M74.7 129.1h0M98.3 124.9h0M102.1 116.4h0M99.1 114.6h0M107.4 123.3h0M108.0 98.7h0M107.5 101.6h0M95.5 158.7h0M87.4 116.7h0M85.3 119.0h0M74.1 116.0h0M97.3 105.3h0M99.1 107.8h0M91.3 59.2h0M72.5 124.6h0M110.4 163.7h0M106.8 102.5h0M55.4 118.4h0M104.9 135.7h0M82.1 121.3h0M100.0 119.8h0M85.1 120.8h0M93.6 94.8h0M97.9 99.5h0M103.1 130.0h0M67.1 135.9h0M100.0 133.2h0M109.6 111.6h0M105.0 162.4h0M97.7 146.5h0M75.2 103.9h0M102.4 90.5h0M76.0 133.9h0M83.9 52.2h0M76.7 127.9h0M106.6 155.9h0M99.7 136.0h0M87.2 117.2h0M96.5 155.2h0M104.0 118.3h0M101.3 137.8h0M94.4 83.4h0M91.7 160.1h0M82.3 118.9h0M109.5 100.9h0M84.4 117.5h0M76.0 116.1h0M113.0 125.1h0M97.9 136.8h0M99.8 134.6h0M99.6 100.5h0M66.9 107.7h0M74.3 102.5h0M88.4 106.7h0M83.4 156.6h0M101.4 99.0h0M57.5 120.7h0M91.4 122.6h0M79.4 155.8h0M92.8 160.7h0M75.3 102.5h0M106.4 99.6h0M86.2 107.7h0M85.0 152.3h0M85.9 136.8h0M103.5 83.6h0M108.2 89.4h0M57.2 123.9h0M74.1 130.1h0M104.1 97.8h0M99.6 119.4h0M96.2 135.6h0M111.2 134.8h0M89.2 101.8h0M92.7 146.9h0M76.8 111.1h0M110.8 147.7h0M78.8 132.7h0M97.4 142.9h0M103.8 167.6h0M105.4 126.8h0M80.2 148.6h0M106.8 95.6h0M113.3 124.7h0M73.9 144.2h0M100.5 153.3h0M100.5 105.0h0M101.5 106.4h0M62.4 131.1h0M99.1 84.6h0M84.9 121.3h0M97.8 158.7h0M107.2 142.1h0M98.3 126.5h0M76.4 104.7h0M71.4 105.5h0M83.3 155.0h0M100.6 120.9h0M88.9 125.2h0M104.5 118.7h0M68.1 112.8h0M112.6 115.8h0M110.3 166.4h0M111.2 141.0h0M88.0 78.6h0M98.4 154.1h0M86.2 152.9h0M65.7 108.7h0M82.9 148.2h0M110.1 166.5h0M95.1 167.4h0M92.5 148.4h0M93.1 116.5h0M108.3 135.3h0M85.8 129.8h0M102.9 105.9h0M79.3 122.9h0M86.7 152.5h0M106.0 140.1h0M105.3 125.6h0M99.1 139.7h0M80.5 117.7h0M75.2 118.1h0M100.8 168.1h0M71.4 104.9h0M93.9 42.6h0M81.0 142.1h0M68.4 130.1h0M80.0 116.2h0M76.3 153.1h0M100.8 131.2h0M106.8 105.7h0M99.3 132.2h0M111.3 158.6h0M80.4 103.2h0M112.1 93.5h0M105.4 135.5h0M111.9 129.7h0M77.0 123.1h0M80.5 109.4h0M63.8 138.0h0M74.7 105.8h0M88.7 156.2h0M103.2 162.4h0M95.9 104.9h0M64.9 143.6h0M106.9 133.5h0M106.9 122.8h0M105.9 111.5h0M113.5 133.0h0M104.0 134.9h0M101.3 136.5h0M70.9 152.0h0M88.5 143.9h0M83.3 140.3h0M110.2 167.0h0M113.8 168.3h0M113.6 102.7h0M94.3 99.0h0M93.0 139.4h0M113.4 160.4h0M71.1 101.1h0M90.3 121.6h0M67.4 121.6h0M106.0 109.1h0M68.3 113.9h0M85.0 137.0h0M80.5 146.7h0M113.1 134.0h0M95.4 114.9h0M104.1 84.2h0M104.9 102.7h0M91.5 163.2h0M99.6 157.9h0M95.0 89.5h0M112.4 139.0h0M71.1 120.2h0M78.0 110.2h0M90.5 151.6h0M86.7 96.8h0M107.5 108.5h0M66.0 100.6h0M98.9 134.4h0M62.8 138.3h0M87.2 122.7h0M111.8 167.3h0M100.9 155.0h0M102.8 134.2h0M79.0 117.6h0M63.9 107.9h0M104.0 130.4h0M113.7 150.7h0M103.7 120.2h0M108.1 144.7h0M95.3 140.0h0M103.6 116.0h0M111.7 119.3h0M81.4 131.7h0M88.2 97.7h0M75.4 154.2h0M92.8 99.3h0M107.3 106.7h0M77.9 125.1h0M79.2 132.7h0M83.8 124.8h0M100.3 120.3h0M85.0 137.6h0M74.4 122.0h0M95.9 128.7h0M113.7 122.1h0M104.2 116.2h0M89.0 100.7h0M109.9 125.8h0M75.7 99.6h0M85.1 114.8h0M52.2 116.4h0M64.4 103.0h0M68.8 147.7h0M110.4 106.1h0M97.7 132.0h0M95.2 152.4h0M110.8 121.4h0M104.8 161.5h0M108.8 100.4h0M100.7 91.8h0M58.9 110.2h0M84.9 157.5h0M100.9 155.7h0M74.0 118.8h0M108.4 131.4h0M53.2 106.1h0M87.5 118.9h0M98.9 122.1h0M109.4 137.8h0M89.7 126.5h0M83.5 140.0h0M112.4 115.1h0M90.3 100.4h0M86.8 130.7h0M83.6 125.3h0M96.0 125.2h0M111.5 109.5h0M86.0 139.8h0M94.3 158.0h0M61.9 120.8h0M102.5 107.0h0M85.0 78.5h0M65.4 116.2h0M66.5 147.5h0M91.6 108.6h0M75.0 143.3h0M80.6 149.7h0M100.5 135.1h0M98.4 125.1h0M70.6 148.5h0M79.5 142.9h0M108.9 91.8h0M94.9 118.4h0M87.2 166.6h0M91.3 134.2h0M100.7 95.3h0M104.5 168.8h0M83.4 105.2h0M67.7 115.5h0M73.8 117.4h0M82.4 146.2h0M92.0 155.9h0M102.8 142.4h0M67.1 96.6h0M105.2 149.5h0M85.6 163.4h0M101.5 150.2h0M111.1 152.1h0M107.6 100.1h0M85.2 124.2h0M74.1 149.7h0M94.5 101.0h0M53.1 111.5h0M85.1 143.3h0M80.4 158.3h0M108.3 137.3h0M103.7 111.3h0M102.0 104.4h0M91.6 90.4h0M90.0 152.2h0M92.7 68.7h0M64.7 125.4h0M107.5 135.0h0M69.7 142.9h0M91.0 118.8h0M70.8 111.6h0M93.9 155.5h0M93.5 119.3h0M86.3 165.0h0M103.9 112.1h0M88.2 136.1h0M95.9 81.2h0M106.6 135.9h0M96.5 162.4h0M80.3 108.2h0M97.8 117.3h0M74.2 98.2h0M68.2 126.5h0M106.2 123.8h0M89.3 118.4h0M85.7 128.8h0M87.7 117.0h0M109.9 146.9h0M96.0 132.0h0M87.4 165.2h0M111.6 163.1h0M76.8 137.9h0M86.0 69.3h0M108.1 142.2h0M101.1 152.6h0M77.3 137.8h0M93.8 105.1h0M65.1 110.2h0M85.3 153.8h0M72.2 103.9h0M97.7 134.0h0M96.7 148.5h0M112.2 122.7h0M71.1 111.9h0M85.8 114.4h0M80.3 157.8h0M55.7 108.7h0M103.9 139.8h0M76.5 151.4h0M79.8 125.0h0M87.5 99.7h0M66.8 139.1h0M86.4 153.7h0M85.1 116.7h0M72.1 106.3h0M90.8 119.6h0M113.4 98.8h0M91.5 132.3h0M74.7 114.3h0M79.8 148.0h0M107.3 149.8h0M107.8 161.6h0M101.2 126.7h0M101.0 118.6h0M102.5 138.4h0M72.8 100.1h0M78.2 139.6h0M93.3 116.7h0M100.7 166.1h0M105.2 120.5h0M79.0 122.8h0M105.4 91.7h0M89.6 144.4h0M108.6 113.0h0M90.4 92.6h0M83.8 137.7h0M92.2 113.5h0M82.9 114.8h0M66.1 116.1h0M103.6 128.7h0M111.2 152.2h0M95.3 146.5h0M87.4 91.8h0M90.4 102.9h0M88.8 117.0h0M73.6 106.0h0M93.9 157.4h0M66.0 128.4h0M95.4 164.5h0M100.6 93.1h0M66.2 110.0h0M85.5 134.5h0M74.0 138.1h0M78.1 120.9h0M82.7 92.1h0M87.2 132.1h0M70.5 129.8h0M89.3 119.4h0M79.9 114.7h0M111.1 130.0h0M88.3 165.4h0M109.6 157.3h0M100.4 159.3h0M87.8 126.9h0M95.5 99.0h0M109.7 111.2h0M102.8 119.9h0M70.5 147.2h0M89.8 167.2h0M94.4 97.8h0M98.1 90.3h0M107.2 108.8h0M89.2 153.1h0M98.2 83.5h0M104.9 121.2h0M94.0 152.5h0M82.2 77.5h0M103.3 148.1h0M64.4 139.1h0M111.8 135.0h0M83.0 123.3h0M82.2 104.4h0M102.1 141.9h0M87.5 76.7h0M109.0 97.6h0M104.4 121.4h0M110.5 112.6h0M97.8 127.4h0M92.5 143.7h0M101.2 107.8h0M107.9 142.7h0M103.2 66.7h0M93.5 78.6h0M82.0 148.4h0M100.8 114.7h0M112.9 137.4h0M73.6 96.6h0M109.4 138.5h0M110.6 134.2h0M73.6 149.0h0M77.9 95.3h0M107.7 121.3h0M100.9 121.8h0M91.1 115.1h0M98.3 126.7h0M91.9 107.8h0M92.1 115.2h0M93.0 129.2h0M92.1 166.8h0M86.6 91.3h0M95.1 99.9h0M93.1 112.7h0M102.0 130.4h0M100.3 89.8h0M79.3 108.1h0M97.0 98.3h0M91.5 164.4h0M95.8 101.2h0M84.9 128.8h0M100.6 109.8h0M63.3 119.6h0M101.0 164.6h0M89.0 124.1h0M107.4 113.7h0M79.3 133.4h0M96.5 150.4h0M110.6 165.5h0M111.2 134.8h0M83.8 161.0h0M97.8 96.1h0M63.2 131.1h0M72.7 120.0h0M69.0 146.0h0M95.0 141.1h0M93.4 151.1h0M101.6 138.5h0M105.7 133.0h0M96.6 162.2h0M98.4 113.8h0M101.0 149.7h0M83.0 153.3h0M87.6 107.1h0M72.2 139.4h0M81.2 103.2h0M74.0 127.6h0M63.4 110.4h0M68.7 113.2h0M100.3 81.0h0M112.4 90.5h0M76.1 123.9h0M98.8 118.6h0M102.2 149.5h0M84.2 73.7h0M109.5 151.5h0M93.1 97.4h0M105.7 149.3h0M110.3 130.0h0M81.0 157.9h0M88.2 146.9h0M83.7 142.8h0M89.3 122.4h0M80.9 121.9h0M92.7 167.2h0M79.4 81.8h0M92.1 131.6h0M90.9 130.7h0M65.8 112.5h0M74.1 139.6h0M92.8 90.1h0M91.6 75.7h0M82.9 102.1h0M83.2 107.5h0M105.8 130.8h0M98.6 153.5h0M94.2 166.7h0M99.8 99.2h0M58.8 113.9h0M91.4 128.1h0M104.0 127.2h0M108.2 112.1h0M81.6 126.9h0M103.0 161.3h0M75.4 99.7h0M83.1 76.4h0M79.1 151.1h0M99.3 57.2h0M103.4 65.0h0M108.3 115.4h0M70.6 122.5h0M63.0 102.4h0M83.5 164.6h0M83.4 156.4h0M91.5 129.7h0M106.8 133.7h0M104.0 148.0h0M111.3 152.2h0M109.0 110.1h0M81.0 101.1h0M79.5 75.5h0M98.3 137.0h0M97.7 129.1h0M52.1 118.8h0M102.6 105.1h0M87.5 166.9h0M89.6 162.3h0M70.4 104.9h0M75.6 116.5h0M110.3 99.8h0M99.5 96.1h0M74.3 116.6h0M81.5 126.8h0M89.1 76.3h0M85.2 106.6h0M98.4 108.9h0M108.7 165.2h0M90.2 120.5h0M94.4 128.5h0M87.4 166.8h0M68.4 110.4h0M95.8 129.7h0M99.9 162.5h0M78.7 96.4h0M70.0 128.4h0M106.1 95.9h0M80.6 144.9h0M85.7 85.0h0M107.8 142.1h0M111.4 147.9h0M104.5 139.6h0M97.3 121.7h0M112.5 143.8h0M107.8 151.6h0M100.8 103.1h0M88.0 130.9h0M108.2 142.4h0M91.0 138.0h0M107.1 111.6h0M86.6 141.2h0M91.3 120.1h0M103.5 146.8h0M55.3 105.2h0M89.1 164.8h0M94.6 140.1h0M82.6 91.8h0M89.9 153.7h0M111.1 134.2h0M93.2 119.4h0M92.2 148.3h0M96.3 91.1h0M55.3 118.6h0M91.2 125.2h0M109.4 108.7h0M80.3 132.1h0M104.4 123.3h0M105.3 159.7h0M81.9 101.9h0M77.4 100.8h0M109.1 133.5h0M113.0 129.4h0M85.4 139.4h0M75.3 145.8h0M96.4 130.2h0M54.5 125.2h0M103.4 104.7h0M61.0 133.2h0M109.0 161.2h0M96.5 146.8h0M68.8 129.1h0M85.3 105.1h0M55.1 113.3h0M97.9 151.4h0M73.9 95.0h0M107.3 130.1h0M83.3 123.0h0M108.9 136.8h0M98.2 127.3h0M94.1 112.7h0M86.0 109.0h0M102.4 166.8h0M82.4 108.6h0M70.1 133.5h0M84.9 138.8h0M95.7 154.4h0M79.3 142.3h0M94.0 103.2h0M79.7 140.0h0M106.3 160.7h0M94.4 99.4h0M74.3 124.2h0M91.9 119.5h0M89.7 129.9h0M87.8 82.1h0M102.9 86.9h0M83.4 152.0h0M105.0 126.7h0M85.1 90.4h0M91.6 122.4h0M78.8 97.7h0M93.5 94.9h0M69.1 148.5h0M102.5 115.5h0M79.0 132.7h0M104.1 87.4h0M83.9 134.8h0M80.5 99.1h0M104.3 122.0h0M93.7 109.7h0M77.7 107.3h0M80.7 138.2h0M96.8 130.1h0M111.1 100.4h0M105.9 132.4h0M82.2 57.1h0M96.5 81.8h0M69.4 127.5h0M113.6 105.6h0M75.8 138.5h0M101.9 118.3h0M96.4 111.7h0M76.7 122.6h0M111.8 114.8h0M91.1 84.7h0M76.0 156.6h0M84.7 106.0h0M85.7 155.9h0M90.4 95.2h0M89.2 152.0h0M91.4 115.1h0M79.5 87.2h0M103.6 118.6h0M90.3 162.2h0M81.1 86.3h0M94.9 153.1h0M101.4 161.5h0M94.5 137.9h0M74.4 146.5h0M83.5 98.3h0M94.5 151.4h0M87.7 155.8h0M112.0 141.1h0M94.4 118.0h0M105.2 142.8h0M77.6 107.9h0M78.1 149.6h0M92.9 146.9h0M94.4 142.2h0M74.4 113.8h0M66.1 135.8h0M78.4 123.1h0M99.3 162.9h0M102.2 138.3h0M87.8 136.6h0M108.7 129.0h0M99.1 134.8h0M93.1 151.7h0M92.9 95.6h0M75.5 99.8h0M84.9 151.0h0M91.9 96.3h0M65.5 146.1h0M89.4 125.5h0M74.4 129.8h0M84.5 126.1h0M63.2 116.7h0M98.2 110.4h0M98.5 80.6h0M88.4 141.1h0M75.6 126.8h0M81.0 156.3h0M104.1 105.0h0M87.7 95.7h0M70.7 107.1h0M99.8 95.9h0M74.5 120.1h0M81.5 162.7h0M69.5 96.9h0M82.2 97.3h0M91.2 102.5h0M62.6 119.4h0M92.3 149.5h0M97.9 85.8h0M96.1 99.0h0M104.5 108.1h0M98.3 134.2h0M112.5 164.6h0M97.0 88.8h0M94.8 138.6h0M97.6 138.0h0M110.8 134.3h0M84.3 106.8h0M71.7 151.7h0M71.3 118.7h0M94.6 147.9h0M107.1 127.9h0M102.6 79.1h0M54.4 103.9h0M99.1 44.9h0M102.7 74.7h0M84.3 67.2h0M91.7 160.4h0M105.5 119.1h0M97.7 147.5h0M98.2 111.4h0M72.1 133.7h0M78.4 116.8h0M98.4 129.8h0M89.9 143.4h0M84.7 127.3h0M74.5 122.1h0M83.9 144.7h0M75.1 132.0h0M90.3 149.2h0M88.9 39.6h0M79.0 52.0h0M90.0 53.0h0M95.0 55.0h0M72.0 69.0h0M85.0 66.0h0M77.0 78.0h0M102.0 70.0h0M66.0 88.0h0M62.0 93.0h0M53.0 98.0h0M55.0 104.0h0M57.0 112.0h0M52.0 116.0h0M58.0 125.0h0M61.0 131.0h0M63.0 140.0h0" stroke="#3a6cb4" stroke-width="1.75" stroke-linecap="round" fill="none"/>
<polygon points="114.0,169.5 114.0,160.0 114.8,151.0 116.5,149.5 118.0,152.0 120.0,160.0 121.3,169.5" fill="#c4c4c4"/>
<polygon points="121.5,169.0 121.5,114.0 127.0,112.0 133.0,113.0 137.0,117.0 140.0,123.0 143.0,131.0 146.0,139.0 149.0,147.0 151.0,155.0 150.5,163.0 147.0,169.0" fill="#d2384e"/>
<path d="M140.9 130.3h0M153.6 146.0h0M124.3 104.6h0M148.6 135.6h0M141.6 84.4h0M127.7 139.2h0M164.3 146.4h0M136.0 152.7h0M125.9 130.2h0M135.9 154.8h0M138.2 124.6h0M134.3 108.1h0M133.2 124.2h0M136.0 160.6h0M142.9 159.9h0M136.4 94.0h0M127.7 113.0h0M138.8 162.1h0M141.9 83.5h0M140.1 144.1h0M122.3 148.8h0M142.1 160.3h0M140.2 163.7h0M134.8 168.5h0M137.4 126.8h0M149.2 140.9h0M135.4 144.9h0M145.8 86.3h0M133.3 151.3h0M142.6 155.8h0M131.7 145.8h0M136.4 128.0h0M124.7 133.3h0M132.2 159.8h0M128.7 112.9h0M123.7 135.9h0M144.2 146.2h0M134.1 94.5h0M130.4 124.9h0M146.4 159.4h0M124.3 127.9h0M148.4 128.7h0M131.7 142.4h0M130.2 99.8h0M137.3 107.9h0M140.5 137.9h0M134.9 125.3h0M131.8 160.8h0M128.7 132.8h0M143.3 116.2h0M123.0 150.6h0M134.4 119.8h0M146.3 161.9h0M153.6 160.2h0M127.9 104.7h0M129.6 136.3h0M146.6 152.9h0M127.2 111.7h0M153.1 115.4h0M147.3 125.2h0M140.3 152.7h0M122.8 117.8h0M125.5 134.5h0M140.5 89.4h0M127.6 149.9h0M128.4 137.1h0M137.2 98.1h0M154.6 105.6h0M143.4 136.9h0M135.1 130.9h0M133.9 96.7h0M159.6 134.9h0M146.4 167.3h0M139.3 144.1h0M140.6 164.7h0M125.1 158.8h0M124.9 109.5h0M153.0 143.1h0M129.0 160.0h0M128.0 119.4h0M142.3 105.9h0M128.9 149.2h0M129.9 114.5h0M124.7 165.2h0M136.7 147.3h0M141.2 154.9h0M129.2 140.2h0M126.8 146.1h0M143.2 114.7h0M141.3 146.4h0M124.2 164.0h0M125.6 123.5h0M123.8 110.3h0M133.8 154.1h0M137.1 79.6h0M137.7 152.5h0M126.5 161.5h0M151.8 115.0h0M176.6 71.9h0M123.1 116.3h0M152.6 130.4h0M137.3 120.6h0M144.0 159.3h0M147.0 117.6h0M150.3 154.6h0M135.8 128.1h0M137.7 145.6h0M146.3 79.0h0M133.4 159.3h0M132.2 108.6h0M141.2 160.0h0M144.4 136.4h0M138.2 102.1h0M144.7 164.1h0M143.7 139.8h0M139.8 118.5h0M121.6 137.1h0M151.9 120.5h0M125.2 146.3h0M132.8 149.0h0M123.9 141.6h0M133.6 119.4h0M143.3 166.8h0M129.6 107.8h0M144.5 142.6h0M140.4 149.2h0M147.6 136.3h0M140.4 85.1h0M128.6 134.1h0M143.2 157.0h0M135.8 152.4h0M128.3 144.4h0M138.2 80.7h0M134.7 124.4h0M137.5 85.8h0M152.1 146.5h0M143.9 88.7h0M133.8 115.9h0M133.9 128.8h0M128.3 153.5h0M153.3 151.3h0M130.6 107.2h0M127.9 163.1h0M135.8 100.9h0M139.4 80.6h0M150.2 160.9h0M132.8 155.8h0M136.7 165.0h0M128.2 100.7h0M163.3 111.9h0M135.0 123.1h0M123.9 159.1h0M132.4 89.9h0M138.1 166.6h0M137.0 115.0h0M147.0 122.2h0M149.3 149.3h0M130.6 125.9h0M139.8 144.8h0M141.1 96.8h0M124.9 166.5h0M137.1 158.6h0M145.5 92.4h0M131.9 107.8h0M143.0 82.3h0M138.6 152.8h0M126.4 135.9h0M146.1 131.7h0M139.7 139.5h0M136.3 140.9h0M125.3 160.6h0M133.6 114.1h0M140.8 115.8h0M138.4 87.3h0M126.0 121.9h0M127.4 156.5h0M128.2 118.8h0M140.4 168.7h0M127.4 148.5h0M136.6 137.3h0M139.3 163.0h0M148.5 126.8h0M134.9 144.8h0M144.3 140.2h0M142.2 120.1h0M155.9 147.6h0M165.7 125.0h0M144.8 94.7h0M153.0 125.4h0M135.9 159.9h0M123.6 108.8h0M137.2 79.9h0M134.5 135.3h0M148.0 167.2h0M159.2 134.1h0M132.8 117.8h0M157.4 118.3h0M152.3 122.6h0M122.4 139.2h0M139.3 70.5h0M127.8 120.2h0M129.9 139.0h0M131.2 162.7h0M135.4 140.1h0M129.6 149.7h0M131.2 132.4h0M141.0 134.7h0M122.5 119.3h0M142.6 107.2h0M147.6 148.4h0M127.2 145.3h0M163.2 128.3h0M122.0 135.0h0M127.9 110.1h0M134.1 115.2h0M138.8 138.7h0M141.6 94.4h0M147.9 127.2h0M133.2 135.9h0M142.1 112.0h0M131.9 104.4h0M144.5 131.8h0M145.8 126.6h0M134.2 76.8h0M129.6 128.5h0M128.3 138.9h0M125.2 165.6h0M149.3 158.9h0M149.6 152.3h0M154.1 121.8h0M127.5 123.6h0M123.7 144.0h0M156.4 136.8h0M159.7 100.0h0M134.3 164.5h0M146.2 89.3h0M143.0 119.4h0M121.7 119.0h0M127.9 110.2h0M139.4 123.8h0M128.5 155.0h0M131.2 152.3h0M144.2 78.1h0M129.2 168.8h0M129.1 99.3h0M143.3 158.4h0M131.1 166.9h0M141.0 127.2h0M127.4 149.0h0M130.0 143.4h0M137.4 143.9h0M153.8 143.0h0M127.8 127.0h0M146.1 127.0h0M139.0 113.8h0M124.8 129.6h0M124.7 133.5h0M133.9 113.2h0M127.7 157.9h0M127.5 138.1h0M124.9 148.3h0M148.2 149.7h0M150.5 113.4h0M121.7 157.7h0M147.7 164.7h0M146.8 109.0h0M154.6 154.5h0M122.3 114.1h0M128.3 109.1h0M136.9 158.9h0M138.7 131.9h0M125.1 118.6h0M141.5 144.5h0M139.8 161.6h0M133.9 129.5h0M137.8 168.8h0M152.6 156.7h0M144.0 75.8h0M127.5 164.3h0M151.3 149.4h0M140.0 102.5h0M148.9 126.9h0M144.8 160.1h0M136.8 104.5h0M132.3 128.2h0M131.1 162.4h0M144.8 147.1h0M128.0 155.8h0M138.7 129.4h0M129.6 135.2h0M150.1 103.7h0M122.1 138.5h0M131.9 137.6h0M136.3 150.4h0M142.9 148.4h0M138.6 124.7h0M126.7 129.2h0M135.5 97.3h0M139.4 125.5h0M150.6 55.7h0M145.7 84.7h0M146.6 144.6h0M126.8 110.9h0M143.0 111.3h0M124.7 119.8h0M140.3 144.1h0M137.7 93.0h0M149.7 127.0h0M123.4 155.2h0M134.8 144.8h0M124.6 166.6h0M144.7 118.2h0M138.2 99.9h0M122.1 118.4h0M124.2 158.7h0M133.7 121.9h0M136.6 133.8h0M137.1 137.1h0M121.5 107.6h0M143.0 134.6h0M126.9 150.9h0M142.9 134.7h0M134.3 88.0h0M122.9 143.6h0M137.4 75.4h0M136.1 126.5h0M136.8 124.4h0M144.2 146.5h0M124.9 107.6h0M125.5 149.4h0M128.5 139.1h0M151.9 151.2h0M142.1 127.4h0M143.6 144.0h0M122.5 113.8h0M125.6 152.6h0M133.3 154.8h0M132.9 153.7h0M155.3 134.8h0M123.8 120.8h0M138.0 121.8h0M130.4 152.7h0M125.9 107.2h0M129.6 136.2h0M131.9 136.0h0M134.7 146.2h0M147.9 131.6h0M145.2 139.6h0M125.5 143.9h0M136.6 143.3h0M139.5 147.3h0M164.7 58.0h0M135.3 159.3h0M141.3 155.3h0M137.8 102.6h0M137.0 151.4h0M151.3 140.5h0M153.5 106.1h0M124.3 117.1h0M135.2 119.5h0M137.7 110.2h0M139.8 161.6h0M142.2 159.0h0M150.7 154.5h0M142.6 132.0h0M148.6 142.0h0M146.1 154.7h0M128.6 154.1h0M129.4 106.5h0M124.8 154.0h0M161.7 116.2h0M144.0 140.2h0M145.2 164.4h0M151.2 137.5h0M140.5 143.5h0M140.2 119.6h0M131.9 145.2h0M129.3 158.9h0M130.5 141.6h0M136.8 113.0h0M139.1 156.7h0M124.2 136.4h0M141.6 89.5h0M127.1 153.5h0M122.9 160.9h0M126.0 166.8h0M139.7 156.8h0M123.9 152.8h0M138.5 95.1h0M147.2 154.6h0M132.0 145.1h0M144.7 90.8h0M126.3 161.9h0M130.3 139.7h0M141.3 112.9h0M147.0 115.0h0M126.7 151.4h0M141.3 159.8h0M134.0 151.3h0M126.2 134.7h0M136.8 98.2h0M134.6 114.2h0M131.3 124.6h0M146.6 132.2h0M127.8 112.5h0M138.5 132.5h0M148.9 86.2h0M145.7 124.1h0M145.5 152.7h0M140.8 131.5h0M138.7 123.2h0M142.7 78.2h0M140.1 100.1h0M146.1 152.1h0M149.7 165.1h0M129.7 122.2h0M139.4 164.9h0M130.1 121.7h0M164.6 117.0h0M131.0 110.0h0M141.5 89.2h0M140.3 105.8h0M149.0 138.6h0M129.6 162.6h0M130.3 151.6h0M141.7 101.5h0M126.7 148.5h0M136.0 111.8h0M138.3 79.6h0M128.1 161.0h0M148.6 113.2h0M134.0 143.8h0M128.8 155.2h0M127.0 108.3h0M150.5 163.3h0M134.2 127.3h0M138.0 111.9h0M145.8 136.9h0M138.9 132.0h0M142.7 147.4h0M152.7 121.3h0M146.2 80.8h0M133.0 140.0h0M136.9 105.5h0M129.0 120.3h0M144.7 146.7h0M136.2 135.2h0M144.3 156.5h0M141.1 112.0h0M126.2 125.7h0M142.0 89.0h0M148.9 156.2h0M126.6 105.2h0M144.6 137.1h0M142.6 140.6h0M131.2 124.6h0M140.8 159.7h0M126.1 159.4h0M154.9 60.7h0M146.7 150.8h0M166.8 73.1h0M151.1 123.6h0M133.4 111.0h0M126.5 158.9h0M142.4 93.4h0M144.6 146.9h0M124.2 113.8h0M129.5 122.4h0M153.4 142.3h0M144.0 119.8h0M138.6 167.1h0M129.8 126.4h0M151.6 161.4h0M131.9 127.6h0M122.8 113.3h0M149.6 156.8h0M143.0 129.1h0M148.3 147.7h0M141.0 116.7h0M166.3 117.8h0M146.6 163.7h0M143.9 152.2h0M145.8 100.5h0M121.9 112.5h0M136.6 126.3h0M132.5 111.7h0M139.3 154.8h0M140.8 127.0h0M135.4 100.4h0M146.2 149.0h0M131.0 112.1h0M135.7 103.0h0M138.8 96.0h0M146.3 166.3h0M148.6 155.3h0M140.3 153.2h0M146.4 94.4h0M144.3 93.3h0M143.6 166.3h0M144.9 142.7h0M141.2 70.8h0M151.6 159.2h0M144.2 136.7h0M139.6 157.1h0M144.0 122.6h0M152.0 121.0h0M123.6 135.8h0M144.4 154.7h0M140.2 122.2h0M143.8 149.1h0M153.8 141.9h0M129.5 120.9h0M136.3 83.8h0M122.1 159.8h0M139.1 160.4h0M129.3 117.3h0M140.1 164.5h0M142.6 145.8h0M140.2 146.2h0M141.2 125.7h0M128.4 111.9h0M147.5 102.1h0M135.4 142.8h0M144.7 122.0h0M138.3 151.6h0M146.2 139.3h0M124.9 148.8h0M141.4 128.0h0M136.5 127.1h0M142.4 89.6h0M141.4 166.9h0M142.2 139.6h0M144.8 111.9h0M152.8 151.3h0M131.8 128.0h0M153.7 65.7h0M137.7 124.6h0M163.9 110.6h0M139.8 77.4h0M142.7 166.8h0M123.7 149.9h0M142.3 165.4h0M145.9 142.7h0M147.0 129.7h0M140.5 127.7h0M145.7 121.4h0M135.5 155.7h0M143.1 158.3h0M127.4 117.9h0M131.1 107.0h0M143.8 164.8h0M128.6 130.2h0M123.8 135.6h0M121.8 123.7h0M125.6 159.6h0M133.0 109.8h0M140.8 149.9h0M148.0 83.7h0M131.8 97.0h0M126.0 143.0h0M164.7 110.1h0M143.0 96.3h0M150.2 161.5h0M152.3 121.6h0M158.3 109.1h0M133.4 127.0h0M125.9 119.4h0M152.4 150.6h0M124.7 145.3h0M132.9 108.9h0M132.3 164.3h0M154.6 144.2h0M130.7 165.2h0M142.9 103.3h0M130.3 159.3h0M132.4 164.1h0M148.8 136.7h0M137.7 116.0h0M156.2 131.0h0M124.0 131.1h0M145.1 114.9h0M133.8 104.0h0M121.9 123.3h0M143.7 145.0h0M125.1 139.2h0M126.6 123.8h0M124.5 124.9h0M123.5 147.0h0M143.3 154.9h0M144.6 151.4h0M134.9 139.8h0M135.8 142.9h0M139.7 89.3h0M122.8 117.7h0M127.8 162.3h0M146.4 98.1h0M140.5 86.4h0M146.6 145.0h0M122.2 120.3h0M149.9 138.1h0M136.2 128.1h0M143.2 166.4h0M126.2 148.4h0M147.4 85.3h0M140.6 150.2h0M132.8 121.0h0M122.7 160.9h0M130.7 168.9h0M144.3 125.9h0M163.0 143.3h0M139.3 157.6h0M144.1 158.3h0M122.9 130.9h0M130.3 113.2h0M145.5 168.4h0M145.4 167.8h0M139.1 103.7h0M122.3 127.0h0M135.1 118.9h0M149.9 134.7h0M142.8 153.1h0M143.6 74.4h0M132.2 107.8h0M138.3 118.1h0M126.6 139.2h0M129.2 161.5h0M158.6 114.2h0M137.4 123.8h0M121.8 119.5h0M144.4 100.0h0M121.5 110.3h0M145.2 164.6h0M128.9 137.2h0M122.6 147.5h0M128.4 146.4h0M133.8 90.8h0M128.6 104.0h0M141.5 159.6h0M125.5 137.7h0M141.8 64.9h0M128.3 164.6h0M142.6 153.4h0M150.7 153.3h0M129.9 130.8h0M141.0 93.0h0M121.9 122.4h0M150.7 126.3h0M141.2 108.4h0M150.9 132.5h0M128.6 142.0h0M137.2 136.9h0M152.5 122.2h0M141.9 147.2h0M139.2 137.2h0M124.7 154.9h0M128.9 145.7h0M140.5 99.7h0M133.7 113.9h0M138.6 159.2h0M136.5 110.5h0M132.4 141.8h0M141.1 152.4h0M153.3 124.1h0M148.7 97.2h0M123.3 168.4h0M129.1 152.7h0M123.0 135.3h0M138.1 78.6h0M144.1 151.4h0M126.5 124.6h0M148.8 145.9h0M134.0 135.2h0M138.6 76.4h0M141.6 119.3h0M138.8 148.2h0M126.1 133.8h0M140.3 153.4h0M124.2 123.5h0M133.9 142.1h0M124.1 155.5h0M130.1 161.1h0M126.2 155.5h0M150.2 155.1h0M133.2 124.5h0M126.4 110.3h0M130.1 113.9h0M125.0 127.4h0M132.8 147.0h0M132.4 134.1h0M145.7 135.3h0M133.1 107.2h0M151.8 156.0h0M143.1 163.4h0M141.6 143.1h0M154.9 130.6h0M125.7 163.7h0M136.2 154.9h0M128.4 125.3h0M146.7 144.8h0M127.2 159.4h0M135.8 110.9h0M133.4 122.3h0M128.0 119.8h0M155.5 137.0h0M147.7 137.3h0M151.2 138.9h0M140.2 98.3h0M152.1 126.7h0M137.5 141.5h0M150.7 151.9h0M138.5 166.4h0M140.0 119.7h0M135.8 157.1h0M130.5 125.9h0M137.9 124.4h0M146.0 153.3h0M148.4 159.3h0M135.3 119.8h0M140.3 135.5h0M141.4 135.4h0M143.3 142.1h0M137.3 115.7h0M128.8 142.2h0M138.0 151.3h0M139.5 160.1h0M135.6 141.9h0M150.6 166.8h0M154.6 108.8h0M122.3 112.4h0M127.2 133.8h0M141.9 152.8h0M132.3 144.8h0M140.5 109.5h0M130.0 161.6h0M121.7 153.8h0M167.0 128.6h0M145.3 156.2h0M128.8 156.7h0M159.0 69.2h0M166.5 64.5h0M121.6 121.5h0M126.0 128.0h0M128.5 142.5h0M142.2 75.4h0M143.1 109.3h0M139.9 85.3h0M132.9 107.0h0M144.5 106.2h0M137.8 154.5h0M142.3 161.4h0M134.3 129.3h0M145.5 132.9h0M132.9 115.9h0M124.4 129.1h0M133.9 153.7h0M159.5 136.6h0M167.5 129.3h0M158.8 144.4h0M128.0 149.0h0M136.4 104.9h0M127.5 145.7h0M149.3 159.1h0M127.5 132.0h0M130.9 154.9h0M132.2 122.7h0M165.7 70.1h0M148.1 115.9h0M130.0 165.6h0M127.8 115.6h0M130.6 117.7h0M125.1 159.8h0M134.2 85.1h0M156.3 159.3h0M133.5 121.0h0M133.6 136.3h0M153.3 133.5h0M139.4 150.2h0M144.3 155.6h0M144.5 137.4h0M128.4 132.5h0M139.6 142.3h0M143.4 139.8h0M144.5 139.1h0M135.4 162.0h0M133.6 108.1h0M136.5 142.1h0M149.9 163.3h0M154.6 135.0h0M138.3 144.4h0M138.8 146.4h0M139.0 116.2h0M144.9 90.5h0M135.1 96.8h0M125.5 154.8h0M132.1 165.0h0M139.6 121.3h0M125.7 161.8h0M129.7 127.6h0M126.0 118.4h0M137.0 165.0h0M132.6 167.7h0M158.1 119.3h0M138.6 149.6h0M138.2 148.7h0M138.1 160.4h0M144.6 162.5h0M127.0 130.4h0M148.7 115.2h0M161.9 129.8h0M143.0 111.1h0M146.4 163.6h0M122.3 163.8h0M151.2 115.8h0M141.0 122.9h0M146.2 157.6h0M128.6 162.7h0M147.4 152.5h0M128.7 94.8h0M133.5 122.2h0M145.6 91.7h0M139.6 67.9h0M131.0 164.8h0M124.3 114.7h0M129.4 131.5h0M140.8 70.9h0M128.4 131.4h0M129.2 120.9h0M127.0 143.0h0M142.6 138.9h0M131.4 154.9h0M124.5 121.2h0M132.6 123.8h0M140.2 122.7h0M123.0 107.3h0M131.8 145.8h0M149.3 162.0h0M132.1 131.4h0M142.7 130.1h0M139.7 145.0h0M150.4 163.0h0M143.2 162.4h0M123.3 104.3h0M124.6 153.0h0M144.6 145.0h0M141.5 146.7h0M124.2 146.3h0M146.6 161.4h0M127.3 152.8h0M125.1 163.7h0M137.2 133.2h0M149.0 144.5h0M149.4 148.8h0M123.0 135.1h0M152.9 113.8h0M138.4 125.9h0M156.7 143.3h0M143.3 158.5h0M126.5 160.1h0M145.4 146.7h0M132.0 158.9h0M125.0 168.2h0M149.8 140.7h0M156.3 126.6h0M125.0 127.3h0M157.0 122.1h0M133.6 161.6h0M155.7 153.1h0M138.2 75.1h0M138.0 168.6h0M125.6 107.7h0M140.3 168.1h0M125.3 104.9h0M132.4 128.3h0M138.3 115.6h0M154.3 114.1h0M138.2 103.5h0M123.6 124.0h0M137.5 141.4h0M129.1 125.6h0M150.4 168.6h0M170.8 70.4h0M123.2 137.7h0M160.5 111.2h0M141.2 85.9h0M139.1 147.5h0M132.9 155.8h0M121.9 141.9h0M129.5 123.9h0M139.9 147.7h0M149.1 149.8h0M138.1 99.3h0M126.7 109.3h0M141.9 149.0h0M127.2 129.8h0M137.7 167.6h0M141.2 132.1h0M136.7 133.4h0M151.2 118.3h0M136.0 116.0h0M161.4 145.1h0M149.3 162.1h0M126.2 159.0h0M135.2 106.3h0M144.1 103.2h0M127.2 114.2h0M131.6 159.6h0M156.7 122.7h0M136.5 132.8h0M126.4 156.9h0M134.4 137.0h0M131.8 147.5h0M133.7 128.1h0M123.8 147.6h0M133.4 77.9h0M129.1 105.0h0M131.9 132.9h0M132.1 162.0h0M127.1 118.8h0M136.2 122.5h0M152.7 114.7h0M123.5 145.9h0M138.8 135.5h0M122.8 105.2h0M146.4 148.4h0M133.9 155.8h0M130.0 127.3h0M124.6 127.8h0M152.7 163.4h0M134.2 114.8h0M133.8 128.6h0M132.2 152.3h0M140.6 111.1h0M127.5 103.3h0M146.8 167.8h0M122.9 104.3h0M140.4 154.0h0M146.4 142.1h0M153.5 153.9h0M132.2 134.4h0M143.2 111.1h0M145.0 129.6h0M163.9 95.5h0M127.1 132.7h0M150.2 155.0h0M156.4 137.5h0M126.2 108.2h0M147.8 77.7h0M154.2 72.2h0M140.3 70.0h0M157.0 106.9h0M122.5 145.0h0M138.3 123.2h0M139.0 166.3h0M130.2 108.5h0M124.0 117.4h0M123.3 154.5h0M124.7 126.3h0M132.8 127.5h0M127.3 123.4h0M129.3 134.3h0M149.8 134.5h0M132.3 150.3h0M134.3 102.9h0M155.2 158.6h0M133.4 102.1h0M154.0 119.3h0M136.3 159.1h0M138.4 144.2h0M132.2 110.4h0M134.0 155.7h0M130.7 153.1h0M142.6 80.8h0M153.0 165.7h0M147.2 93.2h0M129.8 164.8h0M140.9 156.5h0M134.8 153.4h0M134.5 147.7h0M128.6 129.9h0M129.0 166.6h0M135.9 126.7h0M132.3 137.4h0M125.6 128.2h0M142.1 110.5h0M157.3 114.3h0M136.3 138.3h0M130.5 143.3h0M130.1 144.5h0M146.0 151.2h0M163.5 120.5h0M131.0 113.7h0M142.7 165.1h0M129.8 138.3h0M149.1 148.5h0M123.1 166.1h0M153.0 138.4h0M134.4 127.2h0M133.8 138.0h0M122.6 133.2h0M134.0 97.2h0M131.6 100.2h0M149.2 144.5h0M143.0 160.4h0M135.4 137.2h0M144.8 125.7h0M152.3 152.7h0M131.7 157.5h0M148.0 119.8h0M143.8 94.9h0M122.8 108.7h0M121.9 148.9h0M147.3 164.3h0M126.9 114.5h0M134.8 150.3h0M130.8 147.4h0M148.1 158.7h0M143.4 147.2h0M137.4 164.1h0M124.6 154.4h0M141.9 79.5h0M137.0 143.6h0M146.4 147.5h0M135.9 110.7h0M142.2 84.5h0M124.9 126.3h0M133.9 120.5h0M139.6 134.1h0M139.9 150.4h0M151.3 160.1h0M128.0 161.7h0M132.5 138.0h0M138.3 163.7h0M122.5 150.0h0M153.2 134.0h0M144.8 128.3h0M133.8 135.7h0M127.3 142.7h0M143.4 162.9h0M139.6 112.1h0M143.6 134.7h0M136.3 163.4h0M121.5 164.1h0M137.4 121.1h0M136.5 135.3h0M142.3 153.4h0M137.0 134.9h0M127.7 131.1h0M132.2 111.8h0M126.6 105.0h0M146.4 90.2h0M126.7 122.3h0M132.9 140.3h0M130.6 168.1h0M151.0 150.2h0M138.1 82.5h0M143.7 164.4h0M134.7 125.7h0M143.8 101.3h0M134.9 165.4h0M159.5 117.9h0M142.0 76.9h0M140.9 89.2h0M138.1 112.0h0M128.9 120.1h0M140.6 67.2h0M134.0 135.6h0M144.2 155.0h0M154.8 155.4h0M132.7 141.8h0M144.8 79.7h0M144.8 150.0h0M123.7 150.5h0M141.8 115.7h0M143.6 97.4h0M141.8 129.7h0M143.1 135.7h0M147.1 137.1h0M161.4 133.1h0M129.7 117.0h0M128.1 116.5h0M135.0 147.1h0M130.5 124.0h0M131.1 141.2h0M135.1 129.4h0M137.9 90.8h0M149.5 161.5h0M132.4 115.1h0M134.2 115.2h0M124.4 135.1h0M143.3 162.8h0M141.2 92.9h0M126.2 145.9h0M131.7 112.2h0M122.0 132.0h0M135.5 91.5h0M124.2 152.5h0M148.6 151.1h0M148.1 148.4h0M144.6 110.1h0M128.8 140.1h0M127.8 120.8h0M137.5 145.8h0M148.1 154.5h0M146.1 158.9h0M152.4 133.2h0M135.4 123.4h0M130.4 87.2h0M121.7 152.0h0M138.2 165.9h0M124.3 147.6h0M159.2 152.0h0M130.1 133.9h0M138.7 117.9h0M125.6 106.6h0M148.2 88.5h0M138.8 127.4h0M152.5 137.1h0M141.7 165.1h0M130.5 121.2h0M138.2 168.3h0M133.9 123.9h0M130.7 108.4h0M134.7 166.2h0M139.4 164.0h0M136.5 144.3h0M133.1 113.7h0M130.4 124.3h0M122.9 117.6h0M146.7 163.2h0M130.3 137.3h0M134.6 110.5h0M147.1 160.6h0M129.3 133.4h0M129.4 120.6h0M152.5 148.2h0M138.5 114.4h0M133.2 105.3h0M160.2 135.1h0M125.3 121.7h0M133.8 152.0h0M132.7 104.1h0M142.6 154.8h0M138.1 157.0h0M127.1 154.2h0M144.4 158.3h0M122.4 113.9h0M146.8 130.4h0M129.0 107.3h0M137.8 95.8h0M149.9 106.2h0M144.3 81.7h0M147.1 140.6h0M139.3 166.4h0M173.2 96.5h0M150.4 127.8h0M154.4 148.5h0M159.2 120.7h0M139.1 101.4h0M130.9 149.6h0M125.5 114.6h0M175.2 56.4h0M155.4 145.3h0M124.0 146.0h0M127.5 153.0h0M137.7 150.5h0M151.3 145.2h0M127.1 114.1h0M136.2 133.7h0M134.2 102.6h0M135.7 107.9h0M124.5 113.5h0M157.0 108.1h0M136.9 120.0h0M134.7 142.6h0M137.8 90.9h0M139.1 97.2h0M139.9 137.4h0M130.7 153.3h0M133.1 99.4h0M135.9 159.4h0M137.5 120.3h0M163.4 135.5h0M151.2 153.2h0M146.6 130.3h0M137.5 90.8h0M137.3 166.4h0M140.4 167.9h0M127.4 129.5h0M137.5 94.3h0M134.8 155.6h0M130.8 133.1h0M149.0 115.4h0M129.0 129.5h0M146.2 165.9h0M125.9 125.4h0M149.2 152.5h0M131.7 134.8h0M123.0 119.2h0M134.9 117.8h0M144.1 91.3h0M123.4 163.4h0M147.5 146.3h0M141.7 156.1h0M140.6 153.0h0M121.9 146.5h0M126.4 158.6h0M122.3 132.5h0M125.3 164.6h0M142.6 100.3h0M124.6 118.8h0M159.3 124.1h0M136.7 96.5h0M124.9 108.3h0M153.0 117.2h0M148.0 113.4h0M148.5 120.4h0M130.7 133.0h0M121.6 164.9h0M122.3 117.0h0M130.3 159.8h0M133.5 149.7h0M134.3 130.4h0M139.7 130.4h0M143.3 136.5h0M144.8 112.5h0M131.1 108.1h0M158.3 135.7h0M124.9 123.9h0M151.4 121.1h0M135.1 155.7h0M140.0 72.7h0M123.2 119.4h0M155.0 141.7h0M139.5 137.0h0M132.5 128.4h0M126.9 119.9h0M156.7 115.9h0M157.5 113.8h0M139.7 138.7h0M135.4 165.5h0M153.0 139.7h0M139.6 119.4h0M138.5 81.1h0M122.6 123.8h0M147.8 153.2h0M139.6 141.5h0M128.8 141.0h0M138.5 139.7h0M141.6 85.9h0M136.8 137.8h0M133.7 139.2h0M131.8 148.8h0M140.6 129.9h0M123.5 155.0h0M153.0 154.3h0M144.2 120.0h0M141.6 165.2h0M134.6 119.0h0M143.5 131.4h0M152.6 158.6h0M138.9 123.3h0M127.4 138.9h0M134.7 152.2h0M128.2 133.8h0M125.8 112.0h0M139.8 132.6h0M126.5 158.8h0M135.6 124.2h0M137.4 149.9h0M125.2 159.6h0M149.4 166.0h0M132.5 157.0h0M154.6 135.5h0M136.9 145.4h0M133.6 109.3h0M133.6 135.0h0M160.6 132.6h0M131.2 130.8h0M137.9 166.6h0M125.4 162.5h0M138.1 131.6h0M135.3 111.5h0M128.2 153.1h0M131.3 157.0h0M129.8 154.4h0M131.7 146.0h0M136.7 126.3h0M131.6 163.3h0M133.2 79.7h0M133.6 154.4h0M143.7 167.4h0M130.3 121.2h0M131.5 150.4h0M131.5 99.8h0M147.6 109.5h0M122.2 146.8h0M130.2 139.2h0M130.7 115.0h0M127.8 140.4h0M133.1 149.7h0M137.5 103.8h0M125.3 134.2h0M150.6 104.9h0M138.4 116.0h0M141.4 120.5h0M140.1 162.3h0M133.8 129.8h0M132.2 108.6h0M136.8 150.7h0M122.0 149.4h0M141.6 163.4h0M146.9 166.0h0M122.6 112.9h0M126.2 113.8h0M126.4 143.9h0M135.2 168.7h0M142.8 148.0h0M140.0 113.3h0M133.2 157.0h0M148.8 163.3h0M145.8 132.1h0M130.6 162.5h0M127.3 136.6h0M129.1 96.4h0M141.7 149.0h0M124.9 144.9h0M156.1 113.0h0M134.0 149.9h0M144.0 99.8h0M122.2 131.2h0M128.4 160.6h0M143.5 133.8h0M138.3 143.8h0M138.2 147.8h0M147.4 102.8h0M143.7 100.4h0M139.3 139.8h0M146.4 103.8h0M135.5 107.7h0M128.0 164.8h0M146.1 138.3h0M135.2 146.2h0M150.4 159.0h0M133.9 117.1h0M132.9 110.4h0M125.8 161.4h0M127.7 133.9h0M155.7 128.8h0M140.3 168.7h0M141.0 161.9h0M123.2 149.9h0M148.3 156.0h0M131.6 104.3h0M154.8 157.3h0M150.4 152.2h0M147.1 93.9h0M160.5 119.7h0M130.7 134.2h0M151.3 131.7h0M135.6 121.8h0M139.4 69.2h0M143.5 119.7h0M171.5 64.3h0M131.1 161.7h0M148.0 148.3h0M132.4 139.5h0M148.5 112.4h0M140.1 157.6h0M133.8 157.7h0M135.8 121.2h0M134.1 136.4h0M126.2 135.4h0M122.3 131.5h0M136.0 129.2h0M125.1 124.7h0M146.8 119.9h0M121.8 164.4h0M134.2 165.9h0M127.5 121.5h0M138.0 140.2h0M121.6 125.0h0M139.9 163.1h0M144.7 166.0h0M149.9 166.3h0M150.3 148.8h0M137.0 88.9h0M149.4 97.1h0M129.8 135.6h0M135.3 117.6h0M125.3 152.2h0M138.4 141.4h0M141.3 168.4h0M124.3 148.8h0M138.4 142.9h0M143.6 147.9h0M146.1 153.5h0M149.8 151.7h0M137.4 144.7h0M146.6 139.1h0M145.3 144.5h0M134.3 91.2h0M136.8 138.2h0M137.0 122.7h0M131.7 151.6h0M132.3 110.6h0M122.7 115.6h0M124.0 140.3h0M156.9 146.7h0M139.9 133.5h0M126.7 155.8h0M126.0 138.3h0M134.0 140.8h0M151.1 134.7h0M136.4 149.1h0M135.0 110.3h0M131.2 152.9h0M162.5 136.1h0M136.3 128.8h0M132.6 160.7h0M127.7 133.5h0M141.2 166.6h0M150.0 140.8h0M130.6 110.1h0M143.4 151.8h0M122.3 138.9h0M144.0 78.6h0M137.3 98.8h0M138.6 122.8h0M153.1 120.4h0M126.5 154.8h0M147.1 82.3h0M146.2 146.3h0M133.8 153.7h0M137.3 123.9h0M142.9 162.4h0M149.7 132.9h0M145.1 127.1h0M130.2 162.8h0M136.4 101.2h0M164.4 129.9h0M122.6 126.8h0M145.8 136.0h0M153.2 151.8h0M140.9 136.2h0M129.2 169.0h0M139.5 103.1h0M139.7 111.8h0M127.9 154.5h0M132.3 140.7h0M140.5 148.5h0M151.0 112.0h0M130.4 121.8h0M127.9 161.6h0M130.8 116.1h0M140.1 109.4h0M138.8 155.1h0M141.6 73.6h0M121.6 158.7h0M145.2 145.3h0M125.3 165.7h0M123.6 139.2h0M139.3 98.8h0M141.8 155.7h0M148.1 80.4h0M128.0 135.7h0M145.2 124.1h0M143.4 140.4h0M143.5 163.4h0M134.0 94.7h0M151.8 115.3h0M141.0 129.4h0M140.7 147.5h0M128.7 127.2h0M135.4 115.3h0M131.5 154.3h0M138.2 117.6h0M141.4 150.8h0M151.5 136.1h0M121.6 142.9h0M136.6 155.7h0M128.5 110.6h0M146.5 127.1h0M125.1 121.0h0M128.0 129.9h0M132.6 165.0h0M131.0 163.7h0M142.8 130.9h0M125.7 152.2h0M144.5 139.5h0M127.4 159.9h0M121.6 163.5h0M143.7 132.7h0M147.9 167.1h0M141.9 106.2h0M163.5 124.4h0M122.0 138.0h0M136.2 84.5h0M141.7 133.8h0M138.8 133.9h0M155.8 148.2h0M137.5 90.1h0M132.5 151.6h0M150.8 156.5h0M147.8 156.7h0M133.3 107.3h0M142.8 130.9h0M128.7 140.4h0M153.6 108.8h0M147.4 146.1h0M146.6 159.7h0M122.7 133.6h0M126.1 143.0h0M124.5 114.5h0M131.0 122.6h0M142.3 168.2h0M143.1 151.6h0M142.8 154.0h0M122.8 124.4h0M142.1 151.4h0M123.1 109.3h0M137.9 158.4h0M133.7 116.0h0M142.7 166.9h0M125.9 136.8h0M125.7 113.3h0M149.3 155.1h0M132.6 153.6h0M151.7 143.3h0M146.8 157.1h0M142.0 126.9h0M128.1 152.5h0M161.2 141.8h0M147.8 133.4h0M125.2 161.7h0M171.1 63.2h0M139.2 104.4h0M131.0 95.7h0M132.1 134.2h0M124.9 126.1h0M138.9 128.9h0M134.4 152.6h0M150.9 103.9h0M122.7 127.2h0M124.0 147.8h0M142.3 157.9h0M127.1 123.6h0M141.5 142.6h0M130.9 167.2h0M153.8 125.4h0M141.2 70.6h0M126.4 151.7h0M135.4 114.8h0M164.3 123.8h0M126.3 121.5h0M139.9 82.6h0M174.5 114.9h0M150.4 115.8h0M148.4 128.4h0M140.2 141.1h0M137.1 125.5h0M125.9 122.3h0M159.8 122.7h0M126.3 104.9h0M134.0 142.7h0M141.9 153.7h0M128.5 134.0h0M158.7 129.7h0M131.1 144.2h0M140.6 164.3h0M142.2 135.4h0M129.2 108.2h0M143.0 128.9h0M160.8 143.6h0M127.2 138.6h0M133.7 130.3h0M139.4 120.9h0M147.6 159.4h0M149.1 150.9h0M138.1 139.5h0M148.3 148.2h0M124.2 142.2h0M159.4 148.4h0M144.4 118.3h0M134.1 124.1h0M141.2 78.8h0M147.5 149.9h0M129.4 157.2h0M132.2 145.5h0M131.6 154.8h0M140.7 107.5h0M121.7 156.7h0M146.9 72.7h0M138.5 70.6h0M141.4 80.5h0M137.2 115.0h0M136.7 85.8h0M129.3 147.1h0M142.1 143.5h0M133.3 144.3h0M126.7 154.7h0M145.7 151.7h0M124.1 168.8h0M125.0 112.2h0M150.9 160.5h0M135.4 109.0h0M141.9 151.7h0M133.5 127.9h0M148.4 125.6h0M133.8 167.2h0M154.6 122.4h0M137.2 159.8h0M144.1 154.1h0M130.4 138.5h0M150.9 119.4h0M152.6 156.7h0M143.4 166.6h0M154.4 32.4h0M173.0 34.9h0M163.9 42.4h0M170.7 41.3h0M152.3 52.9h0M184.0 60.4h0M191.8 95.8h0M174.2 75.3h0M161.3 66.1h0M146.0 54.0h0M149.0 58.0h0M143.0 62.0h0M166.0 80.0h0M171.0 86.0h0M168.0 98.0h0M157.0 97.0h0M163.0 93.0h0M172.0 113.0h0M165.0 124.0h0M159.0 118.0h0" stroke="#d2384e" stroke-width="1.75" stroke-linecap="round" fill="none"/>
<rect x="45.50" y="25.00" width="153.50" height="152.00" fill="none" stroke="#6a6a6a" stroke-width="1.1"/>
<line x1="112.70" y1="25.80" x2="112.70" y2="176.50" stroke="#000" stroke-width="1.7" stroke-dasharray="5.5 5.6"/>
<line x1="122.00" y1="25.80" x2="122.00" y2="176.50" stroke="#000" stroke-width="1.7" stroke-dasharray="5.5 5.6"/>
<line x1="45.80" y1="169.10" x2="198.50" y2="169.10" stroke="#000" stroke-width="1.7" stroke-dasharray="5.8 5.5" stroke-dashoffset="1.4"/>
<line x1="117.80" y1="136.80" x2="123.50" y2="150.40" stroke="#000" stroke-width="1.1"/>
<circle cx="123.5" cy="150.4" r="1.7" fill="none" stroke="#000" stroke-width="1"/>
<rect x="99.00" y="133.00" width="18.80" height="5.80" fill="#fff" stroke="#111" stroke-width="0.9"/>
<text x="108.40" y="138.00" font-size="6.0" text-anchor="middle" textLength="16.40" lengthAdjust="spacingAndGlyphs">PIAS4</text>
<line x1="117.00" y1="152.50" x2="119.80" y2="168.60" stroke="#000" stroke-width="1.1"/>
<circle cx="119.8" cy="168.6" r="1.7" fill="none" stroke="#000" stroke-width="1"/>
<rect x="99.00" y="149.10" width="18.00" height="5.90" fill="#fff" stroke="#111" stroke-width="0.9"/>
<text x="108.00" y="154.15" font-size="6.0" text-anchor="middle" textLength="15.60" lengthAdjust="spacingAndGlyphs">PIAS3</text>
<line x1="93.40" y1="168.50" x2="108.00" y2="166.80" stroke="#000" stroke-width="1.1"/>
<circle cx="108.0" cy="166.8" r="1.7" fill="none" stroke="#000" stroke-width="1"/>
<rect x="78.80" y="165.70" width="14.60" height="6.20" fill="#fff" stroke="#111" stroke-width="0.9"/>
<text x="86.10" y="170.90" font-size="6.0" text-anchor="middle" textLength="12.20" lengthAdjust="spacingAndGlyphs">PGR</text>
<line x1="131.00" y1="126.20" x2="129.60" y2="130.50" stroke="#000" stroke-width="1.1"/>
<circle cx="129.6" cy="130.5" r="1.7" fill="none" stroke="#000" stroke-width="1"/>
<rect x="127.90" y="120.00" width="21.70" height="6.20" fill="#fff" stroke="#111" stroke-width="0.9"/>
<text x="138.75" y="125.20" font-size="6.0" text-anchor="middle" textLength="19.30" lengthAdjust="spacingAndGlyphs">BRCA2</text>
<line x1="129.00" y1="143.50" x2="124.90" y2="155.50" stroke="#000" stroke-width="1.1"/>
<circle cx="124.9" cy="155.5" r="1.7" fill="none" stroke="#000" stroke-width="1"/>
<rect x="127.90" y="137.60" width="21.70" height="5.90" fill="#fff" stroke="#111" stroke-width="0.9"/>
<text x="138.75" y="142.65" font-size="6.0" text-anchor="middle" textLength="19.30" lengthAdjust="spacingAndGlyphs">BRCA1</text>
<line x1="157.30" y1="156.80" x2="124.60" y2="163.00" stroke="#000" stroke-width="1.1"/>
<circle cx="124.6" cy="163" r="1.7" fill="none" stroke="#000" stroke-width="1"/>
<rect x="157.30" y="153.00" width="21.30" height="6.60" fill="#fff" stroke="#111" stroke-width="0.9"/>
<text x="167.95" y="158.40" font-size="6.0" text-anchor="middle" textLength="18.90" lengthAdjust="spacingAndGlyphs">ERBB2</text>
<line x1="129.80" y1="169.20" x2="120.40" y2="169.60" stroke="#000" stroke-width="1.1"/>
<circle cx="120.4" cy="169.6" r="1.7" fill="none" stroke="#000" stroke-width="1"/>
<rect x="129.80" y="165.80" width="17.60" height="6.30" fill="#fff" stroke="#111" stroke-width="0.9"/>
<text x="138.60" y="171.05" font-size="6.0" text-anchor="middle" textLength="15.20" lengthAdjust="spacingAndGlyphs">ESR1</text>
<text x="43.80" y="62.00" font-size="10" text-anchor="end" fill="#333">150</text>
<text x="43.80" y="97.80" font-size="10" text-anchor="end" fill="#333">100</text>
<text x="43.80" y="139.30" font-size="10" text-anchor="end" fill="#333">50</text>
<text x="43.80" y="175.20" font-size="10" text-anchor="end" fill="#333">0</text>
<text x="78.30" y="186.90" font-size="9.6" text-anchor="middle" fill="#222" textLength="10.20" lengthAdjust="spacingAndGlyphs">−5</text>
<text x="117.40" y="186.90" font-size="9.6" text-anchor="middle" fill="#222" textLength="5.80" lengthAdjust="spacingAndGlyphs">0</text>
<text x="159.60" y="186.90" font-size="9.6" text-anchor="middle" fill="#222" textLength="5.80" lengthAdjust="spacingAndGlyphs">5</text>
<text x="194.20" y="186.90" font-size="9.6" text-anchor="middle" fill="#222" textLength="11.60" lengthAdjust="spacingAndGlyphs">10</text>
<text x="120.80" y="198.90" font-size="10.5" text-anchor="middle" font-weight="bold" textLength="46.20" lengthAdjust="spacingAndGlyphs">log2(FC)</text>
<text x="21.50" y="107.00" font-size="9.8" text-anchor="middle" font-weight="bold" textLength="55.00" lengthAdjust="spacingAndGlyphs" transform="rotate(-90 21.50 107.00)">−log10(pVal)</text>
<text x="204.20" y="76.60" font-size="11.5" font-weight="bold" textLength="59.00" lengthAdjust="spacingAndGlyphs">Significant</text>
<circle cx="209.9" cy="85.3" r="2.3" fill="#d9566a"/>
<text x="215.20" y="88.20" font-size="8.4" fill="#222" textLength="61.80" lengthAdjust="spacingAndGlyphs">Sig_Up (10009)</text>
<circle cx="209.9" cy="95" r="2.3" fill="#a8a8a8"/>
<text x="215.20" y="97.90" font-size="8.4" fill="#222" textLength="57.60" lengthAdjust="spacingAndGlyphs">NoDiff (36092)</text>
<circle cx="209.9" cy="104.8" r="2.3" fill="#4a7ec4"/>
<text x="215.20" y="107.70" font-size="8.4" fill="#222" textLength="73.30" lengthAdjust="spacingAndGlyphs">Sig_Down (10837)</text>
<text x="292.20" y="13.70" font-size="16">(B)</text>
<text x="396.80" y="28.60" font-size="10" text-anchor="middle" textLength="31.50" lengthAdjust="spacingAndGlyphs">TCGA</text>
<line x1="330.30" y1="33.00" x2="330.30" y2="128.40" stroke="#000" stroke-width="1.6"/>
<line x1="329.50" y1="127.70" x2="464.70" y2="127.70" stroke="#000" stroke-width="1.6"/>
<line x1="326.30" y1="127.70" x2="330.30" y2="127.70" stroke="#000" stroke-width="1.3"/>
<text x="325.00" y="131.20" font-size="10" text-anchor="end" textLength="5.56" lengthAdjust="spacingAndGlyphs">0</text>
<line x1="326.30" y1="108.80" x2="330.30" y2="108.80" stroke="#000" stroke-width="1.3"/>
<text x="325.00" y="112.30" font-size="10" text-anchor="end" textLength="11.10" lengthAdjust="spacingAndGlyphs">10</text>
<line x1="326.30" y1="89.90" x2="330.30" y2="89.90" stroke="#000" stroke-width="1.3"/>
<text x="325.00" y="93.40" font-size="10" text-anchor="end" textLength="11.10" lengthAdjust="spacingAndGlyphs">20</text>
<line x1="326.30" y1="71.00" x2="330.30" y2="71.00" stroke="#000" stroke-width="1.3"/>
<text x="325.00" y="74.50" font-size="10" text-anchor="end" textLength="11.10" lengthAdjust="spacingAndGlyphs">30</text>
<line x1="326.30" y1="52.10" x2="330.30" y2="52.10" stroke="#000" stroke-width="1.3"/>
<text x="325.00" y="55.60" font-size="10" text-anchor="end" textLength="11.10" lengthAdjust="spacingAndGlyphs">40</text>
<line x1="326.30" y1="33.20" x2="330.30" y2="33.20" stroke="#000" stroke-width="1.3"/>
<text x="325.00" y="36.70" font-size="10" text-anchor="end" textLength="11.10" lengthAdjust="spacingAndGlyphs">50</text>
<line x1="340.50" y1="127.70" x2="340.50" y2="131.70" stroke="#000" stroke-width="1.3"/>
<line x1="356.70" y1="127.70" x2="356.70" y2="131.70" stroke="#000" stroke-width="1.3"/>
<line x1="372.90" y1="127.70" x2="372.90" y2="131.70" stroke="#000" stroke-width="1.3"/>
<line x1="389.10" y1="127.70" x2="389.10" y2="131.70" stroke="#000" stroke-width="1.3"/>
<line x1="405.30" y1="127.70" x2="405.30" y2="131.70" stroke="#000" stroke-width="1.3"/>
<line x1="421.50" y1="127.70" x2="421.50" y2="131.70" stroke="#000" stroke-width="1.3"/>
<line x1="437.70" y1="127.70" x2="437.70" y2="131.70" stroke="#000" stroke-width="1.3"/>
<line x1="453.90" y1="127.70" x2="453.90" y2="131.70" stroke="#000" stroke-width="1.3"/>
<text x="343.10" y="137.60" font-size="10.6" text-anchor="end" transform="rotate(-45 343.10 137.60)">PIAS1-N</text>
<text x="359.30" y="137.60" font-size="10.6" text-anchor="end" transform="rotate(-45 359.30 137.60)">PIAS1-T</text>
<text x="375.50" y="137.60" font-size="10.6" text-anchor="end" transform="rotate(-45 375.50 137.60)">PIAS2-N</text>
<text x="391.70" y="137.60" font-size="10.6" text-anchor="end" transform="rotate(-45 391.70 137.60)">PIAS2-T</text>
<text x="407.90" y="137.60" font-size="10.6" text-anchor="end" transform="rotate(-45 407.90 137.60)">PIAS3-N</text>
<text x="424.10" y="137.60" font-size="10.6" text-anchor="end" transform="rotate(-45 424.10 137.60)">PIAS3-T</text>
<text x="440.30" y="137.60" font-size="10.6" text-anchor="end" transform="rotate(-45 440.30 137.60)">PIAS4-N</text>
<text x="456.50" y="137.60" font-size="10.6" text-anchor="end" transform="rotate(-45 456.50 137.60)">PIAS4-T</text>
<text x="308.00" y="78.00" font-size="9.8" text-anchor="middle" textLength="108.00" lengthAdjust="spacingAndGlyphs" transform="rotate(-90 308.00 78.00)">Relative expression level</text>
<path d="M342.9 116.4h0M343.0 116.5h0M338.5 121.1h0M339.5 123.9h0M342.2 119.6h0M341.3 117.1h0M340.6 117.0h0M339.1 118.9h0M339.8 122.3h0M339.5 117.3h0M345.0 119.2h0M340.6 117.8h0M341.7 117.3h0M337.9 121.7h0M339.5 116.1h0M342.2 122.3h0M342.7 120.3h0M338.2 116.3h0M340.7 117.6h0M342.2 119.5h0M344.0 119.7h0M341.5 120.0h0M341.1 120.5h0M342.5 118.1h0M343.6 117.9h0M342.6 117.4h0M344.5 118.3h0M336.0 119.8h0M339.8 118.5h0M341.9 115.3h0M339.6 121.4h0M336.1 119.8h0M339.4 116.7h0M336.7 117.5h0M336.0 118.8h0M336.2 119.7h0M336.4 119.5h0M343.5 118.8h0M342.2 121.9h0M340.2 115.2h0" stroke="#9a9a9a" stroke-width="1.1" stroke-linecap="round" fill="none"/>
<path d="M340.1 120.2h0M337.8 117.3h0M342.3 119.7h0M337.1 119.4h0M340.6 121.1h0M338.5 118.1h0M340.5 117.5h0M337.0 118.4h0M342.0 118.1h0M339.2 119.2h0M342.2 117.3h0M342.1 118.1h0M339.2 119.4h0" stroke="#444" stroke-width="1.0" stroke-linecap="round" fill="none"/>
<line x1="335.10" y1="119.10" x2="345.70" y2="119.10" stroke="#000" stroke-width="2.0"/>
<path d="M356.8 84.0h0M356.6 85.2h0M356.7 86.5h0M356.5 89.1h0M356.4 91.3h0M356.3 92.9h0M356.9 95.7h0M356.6 97.9h0M356.9 99.3h0M356.4 101.1h0M356.8 102.4h0M356.5 103.8h0M356.5 106.5h0M356.3 107.5h0M356.7 109.6h0" stroke="#e8383f" stroke-width="1.1" stroke-linecap="round" fill="none"/>
<polygon points="356.0,108.0 355.6,110.5 355.1,113.0 354.2,115.0 353.2,117.0 352.3,119.0 351.4,121.0 352.1,123.0 353.4,124.5 355.0,126.0 356.1,127.0 357.1,127.0 358.2,126.0 359.8,124.5 361.1,123.0 361.8,121.0 360.9,119.0 360.0,117.0 359.0,115.0 358.1,113.0 357.6,110.5 357.2,108.0" fill="#e8383f"/>
<line x1="351.80" y1="121.20" x2="361.40" y2="121.20" stroke="#000" stroke-width="2.0"/>
<path d="M372.2 120.4h0M370.5 122.7h0M368.8 125.6h0M372.5 121.0h0M369.7 125.6h0M376.3 123.9h0M373.3 122.2h0M373.3 122.0h0M374.3 124.5h0M371.8 122.8h0M368.6 125.9h0M375.3 125.0h0M372.0 123.6h0M371.2 123.2h0M376.1 124.7h0M373.8 121.2h0M373.6 125.9h0M374.9 123.6h0M371.5 122.3h0M368.8 125.6h0M374.7 122.4h0M372.3 124.7h0M372.6 123.3h0M368.4 124.6h0M370.3 123.3h0" stroke="#9a9a9a" stroke-width="1.1" stroke-linecap="round" fill="none"/>
<path d="M375.2 122.6h0M370.8 124.6h0M369.6 124.3h0M376.0 119.6h0M369.4 124.5h0M371.5 122.3h0M369.7 123.7h0M375.1 124.9h0" stroke="#444" stroke-width="1.0" stroke-linecap="round" fill="none"/>
<line x1="367.50" y1="125.50" x2="377.90" y2="125.50" stroke="#000" stroke-width="2.0"/>
<path d="M388.6 108.0h0M388.8 108.8h0M388.6 109.7h0M388.8 111.5h0M388.8 112.6h0M388.7 114.0h0M388.6 114.8h0M388.8 115.9h0M388.5 117.6h0M389.1 119.1h0M389.1 120.5h0" stroke="#e8383f" stroke-width="1.1" stroke-linecap="round" fill="none"/>
<polygon points="388.2,119.0 386.8,122.0 384.3,124.0 383.4,125.5 386.8,127.0 390.8,127.0 394.2,125.5 393.3,124.0 390.8,122.0 389.4,119.0" fill="#e8383f"/>
<line x1="383.80" y1="124.80" x2="393.80" y2="124.80" stroke="#000" stroke-width="2.0"/>
<path d="M408.2 106.1h0M408.5 105.7h0M405.8 100.8h0M404.6 113.6h0M405.3 109.1h0M404.5 112.1h0M402.9 109.3h0M407.1 105.8h0M405.3 97.9h0M403.7 96.0h0M409.6 105.5h0M404.4 116.1h0M409.7 106.7h0M408.8 102.9h0M405.3 89.3h0M408.7 102.1h0M406.7 106.6h0M405.3 112.0h0M407.0 97.2h0M403.9 109.7h0M402.0 100.2h0M406.6 117.5h0M405.2 111.7h0M401.2 104.0h0M405.2 97.1h0M402.3 104.1h0M405.4 91.7h0M400.8 108.4h0M406.7 93.4h0M404.5 99.7h0M401.9 107.6h0M403.8 96.3h0M402.9 96.6h0M405.8 98.9h0M405.4 106.2h0M403.8 108.3h0M403.1 102.5h0M402.8 102.5h0M400.1 109.1h0M406.6 101.4h0M406.0 106.8h0M407.3 108.2h0M408.8 115.4h0M401.8 114.3h0M404.3 97.5h0M407.3 99.7h0M403.4 116.4h0M401.2 103.9h0M403.4 105.8h0M405.0 93.3h0M401.5 113.0h0M408.1 98.7h0M409.6 104.7h0M407.9 118.5h0M405.5 95.1h0M405.4 107.1h0M409.3 105.5h0M405.2 115.7h0M402.3 104.5h0M402.7 115.4h0M409.0 103.6h0M402.3 107.4h0M409.0 102.9h0M407.1 102.1h0M404.5 107.3h0M404.3 108.9h0M409.1 111.7h0M407.7 98.2h0M404.3 102.8h0M402.3 104.3h0M403.6 97.2h0M404.3 94.4h0M403.2 117.5h0M401.7 102.1h0M408.8 103.5h0M403.0 97.7h0M409.6 104.5h0M407.8 108.5h0M405.0 113.6h0M402.9 97.6h0M409.2 111.6h0M402.9 99.7h0M403.3 96.4h0M408.3 109.8h0M410.3 109.6h0M405.6 116.1h0M403.4 94.6h0M400.7 109.2h0M408.5 104.0h0M403.1 108.0h0M402.8 108.5h0M403.8 112.4h0M405.5 106.7h0M403.9 115.0h0M407.3 118.2h0M404.5 96.2h0M407.0 109.1h0M403.3 105.7h0M409.0 113.2h0M406.1 115.0h0M406.7 111.0h0M406.7 106.6h0M406.4 94.4h0M408.7 113.5h0M404.6 103.2h0M405.5 106.7h0M409.6 105.0h0M405.0 89.1h0M405.7 110.7h0M409.9 109.3h0" stroke="#9a9a9a" stroke-width="1.1" stroke-linecap="round" fill="none"/>
<path d="M408.0 101.4h0M404.4 106.9h0M408.6 97.7h0M408.9 110.0h0M403.0 110.0h0M403.2 110.5h0M408.7 105.5h0M401.6 102.9h0M402.7 88.3h0M401.8 100.5h0M405.3 95.2h0M407.3 113.8h0M406.2 103.8h0M407.8 98.1h0M408.2 111.8h0M408.3 98.1h0M402.9 109.0h0M406.6 116.6h0M406.8 109.6h0M403.0 100.1h0M405.1 107.2h0M404.4 108.5h0M408.9 98.1h0M408.0 105.1h0M405.8 104.2h0M402.1 106.5h0M402.4 105.0h0M404.7 101.7h0M406.8 91.4h0M404.8 107.9h0M405.5 100.6h0M404.2 115.8h0M404.4 101.4h0M404.5 89.7h0M408.2 112.4h0M401.5 98.2h0" stroke="#444" stroke-width="1.0" stroke-linecap="round" fill="none"/>
<line x1="399.70" y1="108.40" x2="410.30" y2="108.40" stroke="#000" stroke-width="2.0"/>
<path d="M421.0 48.5h0M421.4 49.2h0M421.2 50.2h0M421.2 51.0h0M421.0 51.9h0M421.3 53.3h0M420.9 54.3h0M421.1 55.5h0M420.9 56.5h0M420.7 57.1h0M420.7 58.5h0M420.8 59.5h0M420.8 60.1h0M420.9 61.2h0M421.0 62.4h0M420.6 63.7h0M421.3 64.5h0M421.0 65.3h0M421.3 66.5h0M420.7 67.5h0M421.2 68.4h0M420.9 69.8h0M421.2 70.6h0M420.8 71.5h0M420.9 72.7h0M421.1 73.9h0M421.1 75.0h0M420.6 75.6h0M420.8 76.4h0M420.9 77.7h0M420.7 78.6h0M421.2 79.5h0M421.1 80.5h0M421.4 81.7h0M421.1 82.3h0M420.9 83.0h0M421.4 84.5h0M420.8 85.5h0" stroke="#e8383f" stroke-width="1.45" stroke-linecap="round" fill="none"/>
<polygon points="420.3,84.0 419.8,87.0 419.2,90.0 418.6,92.0 417.8,94.0 417.4,97.0 417.0,99.0 416.5,102.0 416.1,104.0 416.1,109.0 416.4,112.0 416.9,115.0 417.8,118.0 418.4,120.0 419.4,122.5 420.1,125.0 420.6,126.5 421.4,126.5 421.9,125.0 422.6,122.5 423.6,120.0 424.2,118.0 425.1,115.0 425.6,112.0 425.9,109.0 425.9,104.0 425.5,102.0 425.0,99.0 424.6,97.0 424.2,94.0 423.4,92.0 422.8,90.0 422.2,87.0 421.7,84.0" fill="#e8383f"/>
<line x1="416.10" y1="105.30" x2="425.90" y2="105.30" stroke="#000" stroke-width="2.0"/>
<path d="M434.2 119.1h0M435.0 114.3h0M438.3 120.2h0M436.9 112.8h0M440.9 116.4h0M434.3 114.4h0M439.1 114.6h0M437.0 115.2h0M435.8 118.5h0M441.6 117.8h0M439.8 115.1h0M437.3 118.6h0M435.2 114.0h0M440.7 118.2h0M437.0 110.9h0M436.5 119.4h0M441.2 117.7h0M438.3 114.3h0M438.7 114.6h0M436.7 118.0h0M437.3 119.1h0M438.2 113.2h0M436.5 119.0h0M440.9 115.9h0M435.2 117.0h0M438.4 116.3h0M434.7 120.9h0M441.6 116.8h0M441.4 118.8h0M440.3 115.1h0M436.5 119.0h0M435.1 119.9h0M435.9 113.5h0M437.6 110.8h0M437.1 115.9h0M435.8 115.9h0M438.3 117.9h0M435.1 114.5h0M438.6 118.1h0M437.3 111.7h0M441.8 116.3h0M434.7 120.4h0M435.2 116.1h0M439.8 119.9h0M439.2 113.0h0M440.0 118.1h0M439.5 118.4h0M435.7 116.4h0M434.7 117.3h0M436.3 119.9h0" stroke="#9a9a9a" stroke-width="1.1" stroke-linecap="round" fill="none"/>
<path d="M440.4 119.8h0M438.8 114.9h0M435.8 116.4h0M437.0 116.5h0M437.1 117.1h0M435.0 113.1h0M435.9 119.3h0M435.7 113.7h0M434.0 117.4h0M441.1 114.0h0M438.8 116.8h0M436.7 115.3h0M437.0 118.7h0M440.0 111.4h0M438.4 119.9h0M434.5 113.7h0" stroke="#444" stroke-width="1.0" stroke-linecap="round" fill="none"/>
<line x1="432.30" y1="117.60" x2="442.50" y2="117.60" stroke="#000" stroke-width="2.0"/>
<path d="M453.4 67.0h0M452.9 67.7h0M453.3 69.2h0M452.9 70.4h0M453.0 71.9h0M453.0 73.2h0M453.2 74.0h0M453.0 75.3h0M453.0 76.5h0M453.2 77.2h0M452.9 77.8h0M453.6 78.9h0M453.1 79.7h0M453.1 81.1h0M453.0 82.4h0M453.4 83.3h0M453.3 84.2h0M453.0 84.8h0M453.1 86.4h0M453.3 87.2h0M453.1 88.1h0M453.2 89.7h0M453.0 90.8h0M453.3 91.8h0M452.9 92.8h0M453.0 93.7h0" stroke="#e8383f" stroke-width="1.35" stroke-linecap="round" fill="none"/>
<polygon points="452.7,92.0 452.3,96.0 451.7,99.0 451.0,101.5 450.4,103.7 449.6,106.0 448.8,108.5 448.2,110.5 448.0,113.5 448.8,116.5 449.9,119.0 450.8,121.2 451.8,124.0 452.8,126.8 453.8,126.8 454.8,124.0 455.8,121.2 456.7,119.0 457.8,116.5 458.6,113.5 458.4,110.5 457.8,108.5 457.0,106.0 456.2,103.7 455.6,101.5 454.9,99.0 454.3,96.0 453.9,92.0" fill="#e8383f"/>
<line x1="448.10" y1="112.00" x2="458.50" y2="112.00" stroke="#000" stroke-width="2.0"/>
<path d="M339.3 81.89999999999999V80.3H356.9V81.89999999999999" stroke="#000" stroke-width="1.1" fill="none"/>
<text x="348.10" y="77.60" font-size="7.8" text-anchor="middle" textLength="17.07" lengthAdjust="spacingAndGlyphs">0.937</text>
<path d="M372.4 103.3V101.7H390.1V103.3" stroke="#000" stroke-width="1.1" fill="none"/>
<text x="381.25" y="99.00" font-size="7.8" text-anchor="middle" textLength="17.17" lengthAdjust="spacingAndGlyphs">1.000</text>
<path d="M405.2 46.800000000000004V45.2H422.5V46.800000000000004" stroke="#000" stroke-width="1.1" fill="none"/>
<text x="413.85" y="42.40" font-size="7.8" text-anchor="middle" textLength="16.78" lengthAdjust="spacingAndGlyphs">0.000</text>
<path d="M436.2 65.0V63.4H453.5V65.0" stroke="#000" stroke-width="1.1" fill="none"/>
<text x="444.85" y="60.50" font-size="7.8" text-anchor="middle" textLength="16.78" lengthAdjust="spacingAndGlyphs">0.000</text>
<text x="481.00" y="13.70" font-size="16">(C)</text>
<text x="597.50" y="18.70" font-size="10" text-anchor="middle" fill="#111" textLength="110.40" lengthAdjust="spacingAndGlyphs">Overall survival (PIAS4)</text>
<rect x="526.50" y="23.70" width="153.10" height="106.30" fill="none" stroke="#222" stroke-width="1.2"/>
<line x1="523.00" y1="27.70" x2="526.50" y2="27.70" stroke="#000" stroke-width="1"/>
<text x="523.00" y="31.20" font-size="10" text-anchor="end" fill="#111" textLength="13.60" lengthAdjust="spacingAndGlyphs">1.0</text>
<line x1="523.00" y1="47.30" x2="526.50" y2="47.30" stroke="#000" stroke-width="1"/>
<text x="523.00" y="50.80" font-size="10" text-anchor="end" fill="#111" textLength="13.60" lengthAdjust="spacingAndGlyphs">0.8</text>
<line x1="523.00" y1="66.90" x2="526.50" y2="66.90" stroke="#000" stroke-width="1"/>
<text x="523.00" y="70.40" font-size="10" text-anchor="end" fill="#111" textLength="13.60" lengthAdjust="spacingAndGlyphs">0.6</text>
<line x1="523.00" y1="86.50" x2="526.50" y2="86.50" stroke="#000" stroke-width="1"/>
<text x="523.00" y="90.00" font-size="10" text-anchor="end" fill="#111" textLength="13.60" lengthAdjust="spacingAndGlyphs">0.4</text>
<line x1="523.00" y1="106.10" x2="526.50" y2="106.10" stroke="#000" stroke-width="1"/>
<text x="523.00" y="109.60" font-size="10" text-anchor="end" fill="#111" textLength="13.60" lengthAdjust="spacingAndGlyphs">0.2</text>
<line x1="523.00" y1="125.70" x2="526.50" y2="125.70" stroke="#000" stroke-width="1"/>
<text x="523.00" y="129.20" font-size="10" text-anchor="end" fill="#111" textLength="13.60" lengthAdjust="spacingAndGlyphs">0.0</text>
<line x1="532.10" y1="130.00" x2="532.10" y2="133.50" stroke="#000" stroke-width="1"/>
<text x="532.10" y="144.90" font-size="10" text-anchor="middle" fill="#111">0</text>
<line x1="555.83" y1="130.00" x2="555.83" y2="133.50" stroke="#000" stroke-width="1"/>
<text x="555.83" y="144.90" font-size="10" text-anchor="middle" fill="#111">50</text>
<line x1="579.57" y1="130.00" x2="579.57" y2="133.50" stroke="#000" stroke-width="1"/>
<text x="579.57" y="144.90" font-size="10" text-anchor="middle" fill="#111">100</text>
<line x1="603.30" y1="130.00" x2="603.30" y2="133.50" stroke="#000" stroke-width="1"/>
<text x="603.30" y="144.90" font-size="10" text-anchor="middle" fill="#111">150</text>
<line x1="627.03" y1="130.00" x2="627.03" y2="133.50" stroke="#000" stroke-width="1"/>
<text x="627.03" y="144.90" font-size="10" text-anchor="middle" fill="#111">200</text>
<line x1="650.77" y1="130.00" x2="650.77" y2="133.50" stroke="#000" stroke-width="1"/>
<text x="650.77" y="144.90" font-size="10" text-anchor="middle" fill="#111">250</text>
<line x1="674.50" y1="130.00" x2="674.50" y2="133.50" stroke="#000" stroke-width="1"/>
<text x="674.50" y="144.90" font-size="10" text-anchor="middle" fill="#111">300</text>
<text x="605.50" y="159.20" font-size="10.3" text-anchor="middle" fill="#111" textLength="66.00" lengthAdjust="spacingAndGlyphs">Time (months)</text>
<text x="502.80" y="72.00" font-size="10.3" text-anchor="middle" fill="#111" textLength="48.50" lengthAdjust="spacingAndGlyphs" transform="rotate(-90 502.80 72.00)">Probability</text>
<path d="M532.0 27.6H537.0V28.5H542.0V30.0H547.0V31.8H552.0V34.0H557.0V36.5H562.0V38.0H567.0V39.5H572.0V41.0H578.0V42.0H584.0V42.8H590.0V43.2H596.0V43.5H599.7V43.6H600.5V47.6H668.7V47.6" stroke="#000" stroke-width="1.5" fill="none"/>
<path d="M532.0 27.6H537.0V28.6H542.0V30.2H547.0V32.3H553.0V35.2H558.0V38.5H562.0V41.5H567.0V45.0H572.0V47.0H577.0V49.0H581.0V50.4H586.0V52.5H590.0V54.6H595.0V55.8H600.0V56.8H604.4V57.8H609.0V58.5H613.8V59.2H618.4V62.0H621.0V63.5H623.1V64.4H624.3V67.9H626.6V74.9H674.5V74.9" stroke="#ee1c1c" stroke-width="1.6" fill="none"/>
<path d="M600.2 42.0v3.2M599.0 43.6h2.4M537.1 26.9v3.2M535.9 28.5h2.4M571.8 37.9v3.2M570.6 39.5h2.4M550.3 30.2v3.2M549.1 31.8h2.4M568.8 37.9v3.2M567.6 39.5h2.4M536.0 26.0v3.2M534.8 27.6h2.4M533.1 26.0v3.2M531.9 27.6h2.4M569.0 37.9v3.2M567.8 39.5h2.4M564.0 36.4v3.2M562.8 38.0h2.4M569.3 37.9v3.2M568.1 39.5h2.4M578.1 40.4v3.2M576.9 42.0h2.4M552.4 32.4v3.2M551.2 34.0h2.4M533.0 26.0v3.2M531.8 27.6h2.4M565.6 36.4v3.2M564.4 38.0h2.4M576.4 39.4v3.2M575.2 41.0h2.4M577.8 39.4v3.2M576.6 41.0h2.4M541.7 26.9v3.2M540.5 28.5h2.4M569.1 37.9v3.2M567.9 39.5h2.4M626.6 46.0v3.2M625.4 47.6h2.4M548.1 30.2v3.2M546.9 31.8h2.4M596.1 41.9v3.2M594.9 43.5h2.4M639.7 46.0v3.2M638.5 47.6h2.4M557.0 32.4v3.2M555.8 34.0h2.4M561.9 34.9v3.2M560.7 36.5h2.4M561.2 34.9v3.2M560.0 36.5h2.4M582.3 40.4v3.2M581.1 42.0h2.4M541.7 26.9v3.2M540.5 28.5h2.4M557.0 34.9v3.2M555.8 36.5h2.4M569.6 37.9v3.2M568.4 39.5h2.4M599.4 41.9v3.2M598.2 43.5h2.4M557.5 34.9v3.2M556.3 36.5h2.4M571.3 37.9v3.2M570.1 39.5h2.4M600.4 42.0v3.2M599.2 43.6h2.4M579.7 40.4v3.2M578.5 42.0h2.4M571.2 37.9v3.2M570.0 39.5h2.4M543.1 28.4v3.2M541.9 30.0h2.4M598.1 41.9v3.2M596.9 43.5h2.4M600.4 42.0v3.2M599.2 43.6h2.4M633.5 46.0v3.2M632.3 47.6h2.4M559.4 34.9v3.2M558.2 36.5h2.4" stroke="#000" stroke-width="0.9" fill="none"/>
<path d="M550.5 30.7v3.2M549.3 32.3h2.4M626.3 66.3v3.2M625.1 67.9h2.4M549.4 30.7v3.2M548.2 32.3h2.4M612.4 56.9v3.2M611.2 58.5h2.4M579.5 47.4v3.2M578.3 49.0h2.4M607.8 56.2v3.2M606.6 57.8h2.4M583.8 48.8v3.2M582.6 50.4h2.4M555.1 33.6v3.2M553.9 35.2h2.4M640.7 73.3v3.2M639.5 74.9h2.4M622.7 61.9v3.2M621.5 63.5h2.4M537.7 27.0v3.2M536.5 28.6h2.4M642.0 73.3v3.2M640.8 74.9h2.4M620.7 60.4v3.2M619.5 62.0h2.4M609.0 56.9v3.2M607.8 58.5h2.4M562.5 39.9v3.2M561.3 41.5h2.4M549.2 30.7v3.2M548.0 32.3h2.4M572.3 45.4v3.2M571.1 47.0h2.4M623.0 61.9v3.2M621.8 63.5h2.4M624.7 66.3v3.2M623.5 67.9h2.4M566.2 39.9v3.2M565.0 41.5h2.4M546.9 28.6v3.2M545.7 30.2h2.4M583.1 48.8v3.2M581.9 50.4h2.4M567.0 43.4v3.2M565.8 45.0h2.4M624.1 62.8v3.2M622.9 64.4h2.4M568.2 43.4v3.2M567.0 45.0h2.4M623.4 62.8v3.2M622.2 64.4h2.4M623.6 62.8v3.2M622.4 64.4h2.4M624.0 62.8v3.2M622.8 64.4h2.4M557.5 33.6v3.2M556.3 35.2h2.4M623.8 62.8v3.2M622.6 64.4h2.4M601.9 55.2v3.2M600.7 56.8h2.4M553.7 33.6v3.2M552.5 35.2h2.4M625.5 66.3v3.2M624.3 67.9h2.4M613.4 56.9v3.2M612.2 58.5h2.4M621.1 61.9v3.2M619.9 63.5h2.4M607.9 56.2v3.2M606.7 57.8h2.4M538.6 27.0v3.2M537.4 28.6h2.4M567.2 43.4v3.2M566.0 45.0h2.4M603.4 55.2v3.2M602.2 56.8h2.4M555.7 33.6v3.2M554.5 35.2h2.4" stroke="#ee1c1c" stroke-width="0.9" fill="none"/>
<text x="534.90" y="106.60" font-size="7.8" fill="#111">HR = 1.74 (1.01–2.99)</text>
<text x="534.90" y="116.20" font-size="7.8" fill="#111">logrank P = 0.042</text>
<line x1="641.60" y1="103.80" x2="654.90" y2="103.80" stroke="#000" stroke-width="1.2"/>
<line x1="641.60" y1="111.50" x2="654.90" y2="111.50" stroke="#ee1c1c" stroke-width="1.2"/>
<text x="659.20" y="106.60" font-size="8.2" fill="#111">low</text>
<text x="659.20" y="114.30" font-size="8.2" fill="#111">high</text>
<text x="498.50" y="163.80" font-size="7.0" fill="#111">Number at risk</text>
<text x="498.50" y="170.90" font-size="7.0" fill="#111">low</text>
<text x="498.50" y="178.00" font-size="7.0" fill="#c8282a">high</text>
<text x="534.10" y="170.90" font-size="7.0" text-anchor="middle" fill="#111">134</text>
<text x="534.10" y="178.00" font-size="7.0" text-anchor="middle" fill="#c8282a">135</text>
<text x="555.50" y="170.90" font-size="7.0" text-anchor="middle" fill="#111">110</text>
<text x="555.50" y="178.00" font-size="7.0" text-anchor="middle" fill="#c8282a">121</text>
<text x="578.20" y="170.90" font-size="7.0" text-anchor="middle" fill="#111">81</text>
<text x="578.20" y="178.00" font-size="7.0" text-anchor="middle" fill="#c8282a">83</text>
<text x="603.30" y="170.90" font-size="7.0" text-anchor="middle" fill="#111">15</text>
<text x="603.30" y="178.00" font-size="7.0" text-anchor="middle" fill="#c8282a">39</text>
<text x="626.60" y="170.90" font-size="7.0" text-anchor="middle" fill="#111">2</text>
<text x="626.60" y="178.00" font-size="7.0" text-anchor="middle" fill="#c8282a">8</text>
<text x="650.00" y="170.90" font-size="7.0" text-anchor="middle" fill="#111">2</text>
<text x="650.00" y="178.00" font-size="7.0" text-anchor="middle" fill="#c8282a">1</text>
<text x="674.50" y="170.90" font-size="7.0" text-anchor="middle" fill="#111">0</text>
<text x="674.50" y="178.00" font-size="7.0" text-anchor="middle" fill="#c8282a">0</text>
<text x="0.20" y="216.60" font-size="16">(D)</text>
<text x="150.90" y="225.20" font-size="10" text-anchor="middle" fill="#111" textLength="110.60" lengthAdjust="spacingAndGlyphs">Overall survival (PIAS3)</text>
<rect x="78.60" y="230.30" width="154.20" height="105.90" fill="none" stroke="#222" stroke-width="1.2"/>
<line x1="75.10" y1="234.20" x2="78.60" y2="234.20" stroke="#000" stroke-width="1"/>
<text x="74.80" y="237.70" font-size="10" text-anchor="end" fill="#111" textLength="13.60" lengthAdjust="spacingAndGlyphs">1.0</text>
<line x1="75.10" y1="253.82" x2="78.60" y2="253.82" stroke="#000" stroke-width="1"/>
<text x="74.80" y="257.32" font-size="10" text-anchor="end" fill="#111" textLength="13.60" lengthAdjust="spacingAndGlyphs">0.8</text>
<line x1="75.10" y1="273.44" x2="78.60" y2="273.44" stroke="#000" stroke-width="1"/>
<text x="74.80" y="276.94" font-size="10" text-anchor="end" fill="#111" textLength="13.60" lengthAdjust="spacingAndGlyphs">0.6</text>
<line x1="75.10" y1="293.06" x2="78.60" y2="293.06" stroke="#000" stroke-width="1"/>
<text x="74.80" y="296.56" font-size="10" text-anchor="end" fill="#111" textLength="13.60" lengthAdjust="spacingAndGlyphs">0.4</text>
<line x1="75.10" y1="312.68" x2="78.60" y2="312.68" stroke="#000" stroke-width="1"/>
<text x="74.80" y="316.18" font-size="10" text-anchor="end" fill="#111" textLength="13.60" lengthAdjust="spacingAndGlyphs">0.2</text>
<line x1="75.10" y1="332.30" x2="78.60" y2="332.30" stroke="#000" stroke-width="1"/>
<text x="74.80" y="335.80" font-size="10" text-anchor="end" fill="#111" textLength="13.60" lengthAdjust="spacingAndGlyphs">0.0</text>
<line x1="84.00" y1="336.20" x2="84.00" y2="339.70" stroke="#000" stroke-width="1"/>
<text x="84.00" y="352.00" font-size="10" text-anchor="middle" fill="#111">0</text>
<line x1="107.75" y1="336.20" x2="107.75" y2="339.70" stroke="#000" stroke-width="1"/>
<text x="107.75" y="352.00" font-size="10" text-anchor="middle" fill="#111">50</text>
<line x1="131.50" y1="336.20" x2="131.50" y2="339.70" stroke="#000" stroke-width="1"/>
<text x="131.50" y="352.00" font-size="10" text-anchor="middle" fill="#111">100</text>
<line x1="155.25" y1="336.20" x2="155.25" y2="339.70" stroke="#000" stroke-width="1"/>
<text x="155.25" y="352.00" font-size="10" text-anchor="middle" fill="#111">150</text>
<line x1="179.00" y1="336.20" x2="179.00" y2="339.70" stroke="#000" stroke-width="1"/>
<text x="179.00" y="352.00" font-size="10" text-anchor="middle" fill="#111">200</text>
<line x1="202.75" y1="336.20" x2="202.75" y2="339.70" stroke="#000" stroke-width="1"/>
<text x="202.75" y="352.00" font-size="10" text-anchor="middle" fill="#111">250</text>
<line x1="226.50" y1="336.20" x2="226.50" y2="339.70" stroke="#000" stroke-width="1"/>
<text x="226.50" y="352.00" font-size="10" text-anchor="middle" fill="#111">300</text>
<text x="158.00" y="365.10" font-size="10.3" text-anchor="middle" fill="#111" textLength="66.00" lengthAdjust="spacingAndGlyphs">Time (months)</text>
<text x="54.70" y="279.30" font-size="10.3" text-anchor="middle" fill="#111" textLength="48.50" lengthAdjust="spacingAndGlyphs" transform="rotate(-90 54.70 279.30)">Probability</text>
<path d="M84.2 234.2H92.0V234.8H99.1V235.8H104.0V238.5H108.7V241.9H113.0V245.5H118.4V249.1H125.0V251.5H132.8V253.9H139.0V256.5H144.8V259.4H150.0V261.0H156.9V262.8H165.0V263.2H175.0V263.5H175.5V268.4H178.6V268.4H178.8V281.6H181.7V281.6H181.9V287.6H227.2V287.6" stroke="#222" stroke-width="1.5" fill="none"/>
<path d="M84.2 234.2H92.0V234.6H99.1V235.8H105.0V238.5H111.1V241.4H117.0V243.0H123.2V244.7H129.0V246.8H135.2V249.1H141.0V251.0H147.3V252.7H150.0V255.5H152.1V258.2H160.0V258.5H166.5V258.7H166.8V268.4H175.0V268.4H177.4V267.1H184.6V267.1" stroke="#ee1c1c" stroke-width="1.6" fill="none"/>
<path d="M157.6 261.2v3.2M156.4 262.8h2.4M105.2 236.9v3.2M104.0 238.5h2.4M135.8 252.3v3.2M134.6 253.9h2.4M122.7 247.5v3.2M121.5 249.1h2.4M149.6 257.8v3.2M148.4 259.4h2.4M210.8 286.0v3.2M209.6 287.6h2.4M85.2 232.6v3.2M84.0 234.2h2.4M158.0 261.2v3.2M156.8 262.8h2.4M148.0 257.8v3.2M146.8 259.4h2.4M171.9 261.6v3.2M170.7 263.2h2.4M166.9 261.6v3.2M165.7 263.2h2.4M140.1 254.9v3.2M138.9 256.5h2.4M108.4 236.9v3.2M107.2 238.5h2.4M176.9 266.8v3.2M175.7 268.4h2.4M175.8 266.8v3.2M174.6 268.4h2.4M113.3 243.9v3.2M112.1 245.5h2.4M175.4 261.9v3.2M174.2 263.5h2.4M134.4 252.3v3.2M133.2 253.9h2.4M178.8 266.8v3.2M177.6 268.4h2.4M178.6 266.8v3.2M177.4 268.4h2.4M129.6 249.9v3.2M128.4 251.5h2.4M115.2 243.9v3.2M114.0 245.5h2.4M173.0 261.6v3.2M171.8 263.2h2.4M100.3 234.2v3.2M99.1 235.8h2.4M122.9 247.5v3.2M121.7 249.1h2.4M166.4 261.6v3.2M165.2 263.2h2.4M112.5 240.3v3.2M111.3 241.9h2.4M139.4 254.9v3.2M138.2 256.5h2.4M116.5 243.9v3.2M115.3 245.5h2.4M174.5 261.6v3.2M173.3 263.2h2.4M98.8 233.2v3.2M97.6 234.8h2.4M85.9 232.6v3.2M84.7 234.2h2.4M148.8 257.8v3.2M147.6 259.4h2.4M84.4 232.6v3.2M83.2 234.2h2.4M190.8 286.0v3.2M189.6 287.6h2.4M97.8 233.2v3.2M96.6 234.8h2.4M178.6 266.8v3.2M177.4 268.4h2.4M87.5 232.6v3.2M86.3 234.2h2.4M170.8 261.6v3.2M169.6 263.2h2.4M88.2 232.6v3.2M87.0 234.2h2.4" stroke="#222" stroke-width="0.9" fill="none"/>
<path d="M150.7 253.9v3.2M149.5 255.5h2.4M91.5 232.6v3.2M90.3 234.2h2.4M107.7 236.9v3.2M106.5 238.5h2.4M126.9 243.1v3.2M125.7 244.7h2.4M118.7 241.4v3.2M117.5 243.0h2.4M129.3 245.2v3.2M128.1 246.8h2.4M181.6 265.5v3.2M180.4 267.1h2.4M176.0 266.8v3.2M174.8 268.4h2.4M93.2 233.0v3.2M92.0 234.6h2.4M154.8 256.6v3.2M153.6 258.2h2.4M161.5 256.9v3.2M160.3 258.5h2.4M157.1 256.6v3.2M155.9 258.2h2.4M105.9 236.9v3.2M104.7 238.5h2.4M101.5 234.2v3.2M100.3 235.8h2.4M166.7 257.1v3.2M165.5 258.7h2.4M104.8 234.2v3.2M103.6 235.8h2.4M126.7 243.1v3.2M125.5 244.7h2.4M109.4 236.9v3.2M108.2 238.5h2.4M166.5 257.1v3.2M165.3 258.7h2.4M126.0 243.1v3.2M124.8 244.7h2.4M96.2 233.0v3.2M95.0 234.6h2.4M102.7 234.2v3.2M101.5 235.8h2.4M143.5 249.4v3.2M142.3 251.0h2.4M161.9 256.9v3.2M160.7 258.5h2.4M116.1 239.8v3.2M114.9 241.4h2.4M127.3 243.1v3.2M126.1 244.7h2.4M118.5 241.4v3.2M117.3 243.0h2.4M90.8 232.6v3.2M89.6 234.2h2.4M86.0 232.6v3.2M84.8 234.2h2.4M166.6 257.1v3.2M165.4 258.7h2.4M130.9 245.2v3.2M129.7 246.8h2.4M92.8 233.0v3.2M91.6 234.6h2.4M135.5 247.5v3.2M134.3 249.1h2.4M124.4 243.1v3.2M123.2 244.7h2.4M148.4 251.1v3.2M147.2 252.7h2.4M135.8 247.5v3.2M134.6 249.1h2.4M86.6 232.6v3.2M85.4 234.2h2.4M163.2 256.9v3.2M162.0 258.5h2.4M120.6 241.4v3.2M119.4 243.0h2.4M86.8 232.6v3.2M85.6 234.2h2.4" stroke="#ee1c1c" stroke-width="0.9" fill="none"/>
<text x="87.30" y="313.80" font-size="7.8" fill="#111">HR = 0.75 (0.45–1.27)</text>
<text x="87.30" y="322.60" font-size="7.8" fill="#111">logrank P = 0.28</text>
<line x1="193.90" y1="310.40" x2="207.00" y2="310.40" stroke="#222" stroke-width="1.2"/>
<line x1="193.90" y1="318.30" x2="207.00" y2="318.30" stroke="#ee1c1c" stroke-width="1.2"/>
<text x="211.70" y="313.20" font-size="8.2" fill="#111">low</text>
<text x="211.70" y="321.10" font-size="8.2" fill="#111">high</text>
<text x="51.10" y="369.90" font-size="7.0" fill="#111">Number at risk</text>
<text x="51.10" y="378.00" font-size="7.0" fill="#111">low</text>
<text x="51.10" y="385.30" font-size="7.0" fill="#c8282a">high</text>
<text x="86.10" y="378.00" font-size="7.0" text-anchor="middle" fill="#111">131</text>
<text x="86.10" y="385.30" font-size="7.0" text-anchor="middle" fill="#c8282a">135</text>
<text x="107.70" y="378.00" font-size="7.0" text-anchor="middle" fill="#111">115</text>
<text x="107.70" y="385.30" font-size="7.0" text-anchor="middle" fill="#c8282a">118</text>
<text x="130.50" y="378.00" font-size="7.0" text-anchor="middle" fill="#111">84</text>
<text x="130.50" y="385.30" font-size="7.0" text-anchor="middle" fill="#c8282a">80</text>
<text x="155.90" y="378.00" font-size="7.0" text-anchor="middle" fill="#111">47</text>
<text x="155.90" y="385.30" font-size="7.0" text-anchor="middle" fill="#c8282a">14</text>
<text x="178.70" y="378.00" font-size="7.0" text-anchor="middle" fill="#111">8</text>
<text x="178.70" y="385.30" font-size="7.0" text-anchor="middle" fill="#c8282a">2</text>
<text x="201.50" y="378.00" font-size="7.0" text-anchor="middle" fill="#111">2</text>
<text x="201.50" y="385.30" font-size="7.0" text-anchor="middle" fill="#c8282a">0</text>
<text x="226.90" y="378.00" font-size="7.0" text-anchor="middle" fill="#111">0</text>
<text x="226.90" y="385.30" font-size="7.0" text-anchor="middle" fill="#c8282a">0</text>
<defs>
<pattern id="pT" width="1.5" height="1.45" patternUnits="userSpaceOnUse"><rect width="1.35" height="1.3" fill="#5dd6c8"/></pattern>
<pattern id="pG" width="1.5" height="1.45" patternUnits="userSpaceOnUse"><rect width="1.35" height="1.3" fill="#4ad844"/></pattern>
<pattern id="pS" width="1.5" height="1.45" patternUnits="userSpaceOnUse"><rect width="1.35" height="1.3" fill="#ec706c"/></pattern>
</defs>
<text x="346.60" y="209.70" font-size="16">(E)</text>
<text x="481.30" y="223.00" font-size="9.8" text-anchor="middle" textLength="29.00" lengthAdjust="spacingAndGlyphs">PIAS4</text>
<path d="M439.1 246.7C439.9 246.1 442.1 245.1 443.8 243.4C445.6 241.8 447.7 238.9 449.6 236.8C451.5 234.7 453.3 232.4 455.4 231.0C457.5 229.6 459.8 228.4 462.0 228.3C464.2 228.2 466.1 229.3 468.6 230.2C471.2 231.0 473.7 232.4 477.3 233.4C480.9 234.4 486.1 235.5 490.5 236.4C494.9 237.3 500.2 238.0 503.6 238.7C507.0 239.4 508.5 239.6 510.9 240.4C513.3 241.2 516.0 242.5 518.2 243.4C520.4 244.3 522.3 245.4 524.0 246.0C525.7 246.6 527.7 246.6 528.4 246.7Z" stroke="#000" stroke-width="1.8" fill="#5dd6c8" stroke-linejoin="round"/>
<path d="M440.3 288.3C442.1 287.9 447.3 286.4 450.8 285.7C454.3 285.0 457.5 284.1 461.3 283.9C465.1 283.7 469.4 284.5 473.5 284.4C477.6 284.2 482.3 283.8 485.8 283.0C489.3 282.2 491.7 280.8 494.6 279.5C497.5 278.2 501.0 276.1 503.3 275.1C505.6 274.1 506.6 273.9 508.6 273.6C510.7 273.4 513.6 273.8 515.6 273.6C517.6 273.4 518.9 272.9 520.8 272.5C522.7 272.1 525.0 271.1 527.0 271.1C529.0 271.1 530.9 271.1 533.1 272.5C535.3 273.9 538.1 277.4 540.1 279.5C542.1 281.6 543.8 283.3 545.4 284.8C547.0 286.3 549.1 287.7 549.8 288.3Z" stroke="#000" stroke-width="1.8" fill="#4ad844" stroke-linejoin="round"/>
<path d="M437.2 333.8C439.2 333.4 445.3 332.4 449.0 331.6C452.7 330.9 455.9 329.6 459.4 329.3C462.9 329.0 465.9 329.6 469.9 329.7C473.8 329.8 479.3 330.4 483.1 330.1C486.9 329.9 488.8 329.2 492.6 328.2C496.4 327.2 502.1 325.4 505.9 324.0C509.7 322.6 512.5 321.2 515.4 319.8C518.2 318.4 521.0 316.3 523.0 315.4C525.0 314.4 526.0 314.0 527.7 314.1C529.4 314.2 531.3 314.7 533.4 316.0C535.5 317.3 537.9 320.0 540.1 322.1C542.3 324.2 544.8 327.1 546.7 328.7C548.6 330.3 550.5 330.8 551.5 331.6C552.5 332.5 552.5 333.4 552.7 333.8Z" stroke="#000" stroke-width="1.8" fill="#ec706c" stroke-linejoin="round"/>
<rect x="460.60" y="248.10" width="23.30" height="3.10" fill="#5dd6c8" stroke="#000" stroke-width="1.4"/>
<rect x="483.90" y="248.10" width="22.60" height="3.10" fill="#c8c8c8" stroke="#000" stroke-width="0.8"/>
<line x1="460.40" y1="247.30" x2="460.40" y2="252.20" stroke="#000" stroke-width="1"/>
<line x1="506.60" y1="247.30" x2="506.60" y2="252.20" stroke="#000" stroke-width="1"/>
<rect x="483.40" y="289.60" width="22.60" height="3.30" fill="#fff" stroke="#000" stroke-width="0.8"/>
<rect x="506.00" y="289.60" width="23.60" height="3.30" fill="#1f5f1f" stroke="#000" stroke-width="1.4"/>
<line x1="483.30" y1="288.80" x2="483.30" y2="293.60" stroke="#000" stroke-width="1"/>
<rect x="483.60" y="335.20" width="23.30" height="3.00" fill="#fff" stroke="#000" stroke-width="0.8"/>
<rect x="506.90" y="335.20" width="22.70" height="3.00" fill="#7a3a38" stroke="#000" stroke-width="1.4"/>
<line x1="483.50" y1="334.60" x2="483.50" y2="339.00" stroke="#000" stroke-width="1"/>
<rect x="455.40" y="254.60" width="10.30" height="12.80" fill="url(#pT)" stroke="none" stroke-width="1"/>
<rect x="463.30" y="264.50" width="3.00" height="3.00" fill="#fff" stroke="none" stroke-width="1"/>
<rect x="480.50" y="254.60" width="6.30" height="12.80" fill="url(#pT)" stroke="none" stroke-width="1"/>
<rect x="483.50" y="262.00" width="3.50" height="6.00" fill="#fff" stroke="none" stroke-width="1"/>
<rect x="505.00" y="254.60" width="3.10" height="12.80" fill="url(#pT)" stroke="none" stroke-width="1"/>
<rect x="506.50" y="264.50" width="2.00" height="3.00" fill="#fff" stroke="none" stroke-width="1"/>
<rect x="458.40" y="296.20" width="4.80" height="12.80" fill="url(#pG)" stroke="none" stroke-width="1"/>
<rect x="461.40" y="299.00" width="2.50" height="10.50" fill="#fff" stroke="none" stroke-width="1"/>
<rect x="481.20" y="296.20" width="4.60" height="12.80" fill="url(#pG)" stroke="none" stroke-width="1"/>
<rect x="484.20" y="300.50" width="2.50" height="9.00" fill="#fff" stroke="none" stroke-width="1"/>
<rect x="501.20" y="296.20" width="10.90" height="12.80" fill="url(#pG)" stroke="none" stroke-width="1"/>
<rect x="509.20" y="306.00" width="3.20" height="3.20" fill="#fff" stroke="none" stroke-width="1"/>
<rect x="522.60" y="296.20" width="13.70" height="12.80" fill="url(#pG)" stroke="none" stroke-width="1"/>
<rect x="459.00" y="342.00" width="3.00" height="10.40" fill="url(#pS)" stroke="none" stroke-width="1"/>
<rect x="460.50" y="349.50" width="2.00" height="3.50" fill="#fff" stroke="none" stroke-width="1"/>
<rect x="483.00" y="342.00" width="1.60" height="4.00" fill="url(#pS)" stroke="none" stroke-width="1"/>
<rect x="505.00" y="342.00" width="3.90" height="13.20" fill="url(#pS)" stroke="none" stroke-width="1"/>
<rect x="506.50" y="350.00" width="3.00" height="6.00" fill="#fff" stroke="none" stroke-width="1"/>
<rect x="524.90" y="342.00" width="9.10" height="13.20" fill="url(#pS)" stroke="none" stroke-width="1"/>
<rect x="531.50" y="352.00" width="3.00" height="4.00" fill="#fff" stroke="none" stroke-width="1"/>
<text x="411.00" y="241.00" font-size="10.4" text-anchor="middle" fill="#111">Normal</text>
<text x="411.00" y="250.80" font-size="10.4" text-anchor="middle" fill="#111">(n=45)</text>
<text x="411.00" y="287.60" font-size="10.4" text-anchor="middle" fill="#111">Stage II</text>
<text x="411.00" y="297.30" font-size="10.4" text-anchor="middle" fill="#111">(n=70)</text>
<text x="411.00" y="338.80" font-size="10.4" text-anchor="middle" fill="#111">Stage III</text>
<text x="411.00" y="349.40" font-size="10.4" text-anchor="middle" fill="#111">(n=31)</text>
<text x="410.90" y="367.80" font-size="9.8" text-anchor="middle" fill="#111" textLength="51.20" lengthAdjust="spacingAndGlyphs">IHC scores</text>
<text x="460.10" y="367.80" font-size="9.8" text-anchor="middle" fill="#111">0</text>
<text x="483.60" y="367.80" font-size="9.8" text-anchor="middle" fill="#111">1</text>
<text x="505.60" y="367.80" font-size="9.8" text-anchor="middle" fill="#111">2</text>
<text x="528.40" y="367.80" font-size="9.8" text-anchor="middle" fill="#111">3</text>
<path d="M558.4 243.8H560.4V287.7H558.4" stroke="#555" stroke-width="0.9" fill="none"/>
<text x="562.90" y="268.80" font-size="7.4" fill="#222" textLength="19.10" lengthAdjust="spacingAndGlyphs">0.000</text>
<path d="M589.4 243.8H591.4V334.5H589.4" stroke="#555" stroke-width="0.9" fill="none"/>
<text x="594.80" y="293.80" font-size="7.4" fill="#222" textLength="19.10" lengthAdjust="spacingAndGlyphs">0.000</text>
<text x="0.00" y="409.90" font-size="16">(F)</text>
<text x="109.80" y="412.50" font-size="10.3" text-anchor="middle" fill="#111">Case 1</text>
<text x="231.20" y="412.50" font-size="10.3" text-anchor="middle" fill="#111">Case 2</text>
<text x="22.50" y="450.00" font-size="10.5" fill="#111" textLength="33.90" lengthAdjust="spacingAndGlyphs">Normal</text>
<text x="22.50" y="520.50" font-size="10.5" fill="#111" textLength="30.70" lengthAdjust="spacingAndGlyphs">Tumor</text>
<text x="170.90" y="562.00" font-size="10.5" text-anchor="middle" fill="#111">PIAS4</text>
<defs>
<filter id="fT1" x="0" y="0" width="1" height="1" color-interpolation-filters="sRGB">
 <feTurbulence type="fractalNoise" baseFrequency="0.75" numOctaves="2" seed="4" result="hi"/>
 <feTurbulence type="turbulence" baseFrequency="0.05 0.075" numOctaves="2" seed="12" result="lo"/>
 <feColorMatrix in="hi" type="matrix" values="0 0 0 0 0  0 0 0 0 0  0 0 0 0 0  1 0 0 0 0" result="hiA"/>
 <feColorMatrix in="lo" type="matrix" values="0 0 0 0 0  0 0 0 0 0  0 0 0 0 0  1 0 0 0 0" result="loA0"/>
 <feComponentTransfer in="loA0" result="loA"><feFuncA type="table" tableValues="0 0.35 0.7 0.9 1 1 1 1 1 1 1 1 1 1 1 1"/></feComponentTransfer>
 <feComposite in="hiA" in2="loA" operator="arithmetic" k1="0" k2="2.8" k3="1.0" k4="-1.72" result="m"/>
 <feFlood flood-color="#bba382" result="tan"/>
 <feComposite in="tan" in2="m" operator="in" result="tanm"/>
 <feFlood flood-color="#eef0f4" result="bg"/>
 <feComposite in="tanm" in2="bg" operator="over" result="c"/>
 <feGaussianBlur in="c" stdDeviation="0.7"/>
</filter>
<filter id="fT2" x="0" y="0" width="1" height="1" color-interpolation-filters="sRGB">
 <feTurbulence type="turbulence" baseFrequency="0.17 0.21" numOctaves="2" seed="21" result="t"/>
 <feColorMatrix in="t" type="matrix" values="0 0 0 0 0  0 0 0 0 0  0 0 0 0 0  -3.0 0 0 0 0.68" result="lines"/>
 <feFlood flood-color="#b0aeaa" result="gc"/>
 <feComposite in="gc" in2="lines" operator="in" result="gl"/>
 <feFlood flood-color="#eceef0" result="bg"/>
 <feComposite in="gl" in2="bg" operator="over" result="c"/>
 <feGaussianBlur in="c" stdDeviation="0.7"/>
</filter>
<filter id="fN" x="0" y="0" width="1" height="1" color-interpolation-filters="sRGB">
 <feTurbulence type="fractalNoise" baseFrequency="0.7" numOctaves="1" seed="5" result="n"/>
 <feColorMatrix in="n" type="matrix" values="0 0 0 0 0.66  0 0 0 0 0.7  0 0 0 0 0.8  7 0 0 0 -4.9" result="sp"/>
 <feComposite in="sp" in2="SourceGraphic" operator="in" result="sp2"/>
 <feComposite in="sp2" in2="SourceGraphic" operator="over"/>
</filter>
<clipPath id="cN1"><rect x="63" y="418.5" width="107.5" height="62.5"/></clipPath>
<clipPath id="cN2"><rect x="175.9" y="418.9" width="106.5" height="61.7"/></clipPath>
</defs>
<rect x="63.00" y="418.50" width="107.50" height="62.50" fill="#f9fafb" stroke="none" stroke-width="1"/>
<g clip-path="url(#cN1)"><path d="M62 417 L171 417 L171 426 C168 445 160 458 148 466 C132 477 112 481 96 478 C80 474 68 462 62 448 Z" fill="#f0f2f5" filter="url(#fN)"/></g>
<circle cx="98" cy="423" r="4" fill="#f7f8fa"/>
<circle cx="106" cy="424" r="4.5" fill="#f7f8fa"/>
<circle cx="115" cy="423" r="4" fill="#f7f8fa"/>
<circle cx="124" cy="425" r="3.5" fill="#f7f8fa"/>
<circle cx="132" cy="422" r="3.5" fill="#f7f8fa"/>
<circle cx="140" cy="424" r="3" fill="#f7f8fa"/>
<circle cx="88" cy="425" r="3" fill="#f7f8fa"/>
<path d="M138 456 C142 454 147 452 150 451 L149 455 C146 456 142 458 139 458 Z" stroke="#5a78b0" stroke-width="0.8" fill="none"/>
<path d="M117 441 l4 -1" stroke="#7088b8" stroke-width="0.8" fill="none"/>
<circle cx="88.5" cy="468.7" r="3" fill="#dcdee2"/>
<rect x="175.90" y="418.90" width="106.50" height="61.70" fill="#f9fafb" stroke="none" stroke-width="1"/>
<g clip-path="url(#cN2)"><path d="M176 419 L282 419 L282 440 C278 455 272 468 262 478 L190 478 C183 470 178 460 176 450 Z" fill="#f1f3f5" filter="url(#fN)"/></g>
<path d="M208 437 C214 439 220 440 226 442" stroke="#6a88c0" stroke-width="1.3" fill="none"/>
<path d="M245 448 C249 447 253 448 256 450" stroke="#6a88c0" stroke-width="1.3" fill="none"/>
<path d="M246 461 C249 458 256 459 260 461 C256 464 250 464 246 461 Z" stroke="#6a88c0" stroke-width="1.0" fill="none"/>
<rect x="63.5" y="484" width="108.1" height="62.6" filter="url(#fT1)"/>
<rect x="175.5" y="484" width="105.5" height="62.5" filter="url(#fT2)"/>
<path d="M178 542.5h12" stroke="#333" stroke-width="1.0" fill="none" stroke-dasharray="1.5 1"/>
<text x="346.00" y="408.60" font-size="16">(G)</text>
<text x="479.30" y="416.50" font-size="10.3" text-anchor="middle" fill="#111" textLength="72.00" lengthAdjust="spacingAndGlyphs">Overall Survival</text>
<line x1="413.80" y1="428.00" x2="413.80" y2="532.00" stroke="#000" stroke-width="1.3"/>
<line x1="413.20" y1="531.50" x2="566.30" y2="531.50" stroke="#000" stroke-width="1.3"/>
<line x1="408.80" y1="531.50" x2="413.80" y2="531.50" stroke="#000" stroke-width="1"/>
<text x="407.00" y="535.00" font-size="10" text-anchor="end" fill="#111">0</text>
<line x1="411.30" y1="526.38" x2="413.80" y2="526.38" stroke="#000" stroke-width="1"/>
<line x1="411.30" y1="521.25" x2="413.80" y2="521.25" stroke="#000" stroke-width="1"/>
<line x1="411.30" y1="516.12" x2="413.80" y2="516.12" stroke="#000" stroke-width="1"/>
<line x1="408.80" y1="511.00" x2="413.80" y2="511.00" stroke="#000" stroke-width="1"/>
<text x="407.00" y="514.50" font-size="10" text-anchor="end" fill="#111">20</text>
<line x1="411.30" y1="505.88" x2="413.80" y2="505.88" stroke="#000" stroke-width="1"/>
<line x1="411.30" y1="500.75" x2="413.80" y2="500.75" stroke="#000" stroke-width="1"/>
<line x1="411.30" y1="495.62" x2="413.80" y2="495.62" stroke="#000" stroke-width="1"/>
<line x1="408.80" y1="490.50" x2="413.80" y2="490.50" stroke="#000" stroke-width="1"/>
<text x="407.00" y="494.00" font-size="10" text-anchor="end" fill="#111">40</text>
<line x1="411.30" y1="485.38" x2="413.80" y2="485.38" stroke="#000" stroke-width="1"/>
<line x1="411.30" y1="480.25" x2="413.80" y2="480.25" stroke="#000" stroke-width="1"/>
<line x1="411.30" y1="475.12" x2="413.80" y2="475.12" stroke="#000" stroke-width="1"/>
<line x1="408.80" y1="470.00" x2="413.80" y2="470.00" stroke="#000" stroke-width="1"/>
<text x="407.00" y="473.50" font-size="10" text-anchor="end" fill="#111">60</text>
<line x1="411.30" y1="464.88" x2="413.80" y2="464.88" stroke="#000" stroke-width="1"/>
<line x1="411.30" y1="459.75" x2="413.80" y2="459.75" stroke="#000" stroke-width="1"/>
<line x1="411.30" y1="454.62" x2="413.80" y2="454.62" stroke="#000" stroke-width="1"/>
<line x1="408.80" y1="449.50" x2="413.80" y2="449.50" stroke="#000" stroke-width="1"/>
<text x="407.00" y="453.00" font-size="10" text-anchor="end" fill="#111">80</text>
<line x1="411.30" y1="444.38" x2="413.80" y2="444.38" stroke="#000" stroke-width="1"/>
<line x1="411.30" y1="439.25" x2="413.80" y2="439.25" stroke="#000" stroke-width="1"/>
<line x1="411.30" y1="434.12" x2="413.80" y2="434.12" stroke="#000" stroke-width="1"/>
<line x1="408.80" y1="429.00" x2="413.80" y2="429.00" stroke="#000" stroke-width="1"/>
<text x="407.00" y="432.50" font-size="10" text-anchor="end" fill="#111">100</text>
<line x1="413.90" y1="531.50" x2="413.90" y2="536.50" stroke="#000" stroke-width="1"/>
<text x="413.90" y="546.20" font-size="10" text-anchor="middle" fill="#111">0</text>
<line x1="421.50" y1="531.50" x2="421.50" y2="534.00" stroke="#000" stroke-width="1"/>
<line x1="429.09" y1="531.50" x2="429.09" y2="534.00" stroke="#000" stroke-width="1"/>
<line x1="436.69" y1="531.50" x2="436.69" y2="534.00" stroke="#000" stroke-width="1"/>
<line x1="444.28" y1="531.50" x2="444.28" y2="534.00" stroke="#000" stroke-width="1"/>
<line x1="451.88" y1="531.50" x2="451.88" y2="536.50" stroke="#000" stroke-width="1"/>
<text x="451.88" y="546.20" font-size="10" text-anchor="middle" fill="#111">60</text>
<line x1="459.47" y1="531.50" x2="459.47" y2="534.00" stroke="#000" stroke-width="1"/>
<line x1="467.06" y1="531.50" x2="467.06" y2="534.00" stroke="#000" stroke-width="1"/>
<line x1="474.66" y1="531.50" x2="474.66" y2="534.00" stroke="#000" stroke-width="1"/>
<line x1="482.25" y1="531.50" x2="482.25" y2="534.00" stroke="#000" stroke-width="1"/>
<line x1="489.85" y1="531.50" x2="489.85" y2="536.50" stroke="#000" stroke-width="1"/>
<text x="489.85" y="546.20" font-size="10" text-anchor="middle" fill="#111">120</text>
<line x1="497.44" y1="531.50" x2="497.44" y2="534.00" stroke="#000" stroke-width="1"/>
<line x1="505.04" y1="531.50" x2="505.04" y2="534.00" stroke="#000" stroke-width="1"/>
<line x1="512.63" y1="531.50" x2="512.63" y2="534.00" stroke="#000" stroke-width="1"/>
<line x1="520.23" y1="531.50" x2="520.23" y2="534.00" stroke="#000" stroke-width="1"/>
<line x1="527.82" y1="531.50" x2="527.82" y2="536.50" stroke="#000" stroke-width="1"/>
<text x="527.82" y="546.20" font-size="10" text-anchor="middle" fill="#111">180</text>
<line x1="535.42" y1="531.50" x2="535.42" y2="534.00" stroke="#000" stroke-width="1"/>
<line x1="543.01" y1="531.50" x2="543.01" y2="534.00" stroke="#000" stroke-width="1"/>
<line x1="550.61" y1="531.50" x2="550.61" y2="534.00" stroke="#000" stroke-width="1"/>
<line x1="558.20" y1="531.50" x2="558.20" y2="534.00" stroke="#000" stroke-width="1"/>
<line x1="565.80" y1="531.50" x2="565.80" y2="536.50" stroke="#000" stroke-width="1"/>
<text x="565.80" y="546.20" font-size="10" text-anchor="middle" fill="#111">240</text>
<text x="486.40" y="561.00" font-size="10.2" text-anchor="middle" fill="#111">Months</text>
<text x="383.50" y="476.80" font-size="10.5" text-anchor="middle" fill="#111" textLength="100.80" lengthAdjust="spacingAndGlyphs" transform="rotate(-90 383.50 476.80)">Probability of Survival</text>
<path d="M413.8 432.5H436.7V440.1H451.6V443.6H459.3V447.8H467.4V449.6H474.6V451.7H497.1V455.7H527.6V467.7H535.2" stroke="#e03434" stroke-width="1.2" fill="none"/>
<path d="M413.8 432.5H436.7V434H444.4V436.2H452.3V438.2H460V440.4H490V441.9H543.6" stroke="#2424d8" stroke-width="1.2" fill="none"/>
<path d="M497.6 441.9v-2.2M505.2 441.9v-2.2M520.6 441.9v-2.2M528.2 441.9v-2.2M535.2 441.9v-2.2M542.5 441.9v-2.2" stroke="#2424d8" stroke-width="1.1" fill="none"/>
<path d="M490 451.7v-2.2M505.2 455.7v-2.2M520.1 455.7v-2.2M535 467.7v-2.2" stroke="#e03434" stroke-width="1.1" fill="none"/>
<text x="428.00" y="504.70" font-size="7.75" fill="#111" textLength="61.00" lengthAdjust="spacingAndGlyphs">logrank P = 0.048</text>
<text x="428.00" y="515.30" font-size="7.75" fill="#111">HR = 2.69 (1.07–6.78)</text>
<line x1="523.40" y1="499.00" x2="535.00" y2="499.00" stroke="#2424d8" stroke-width="1.2"/>
<path d="M527.9 499.6L529.2 497.3L530.5 499.6Z" stroke="none" stroke-width="1" fill="#2424d8"/>
<line x1="523.40" y1="509.90" x2="535.00" y2="509.90" stroke="#e03434" stroke-width="1.2"/>
<path d="M527.9 510.5L529.2 508.2L530.5 510.5Z" stroke="none" stroke-width="1" fill="#e03434"/>
<text x="539.50" y="502.70" font-size="10.5" fill="#111" textLength="84.50" lengthAdjust="spacingAndGlyphs">Low PIAS4 Group</text>
<text x="539.50" y="513.60" font-size="10.5" fill="#111" textLength="86.00" lengthAdjust="spacingAndGlyphs">High PIAS4 Group</text>
</svg></body></html>
